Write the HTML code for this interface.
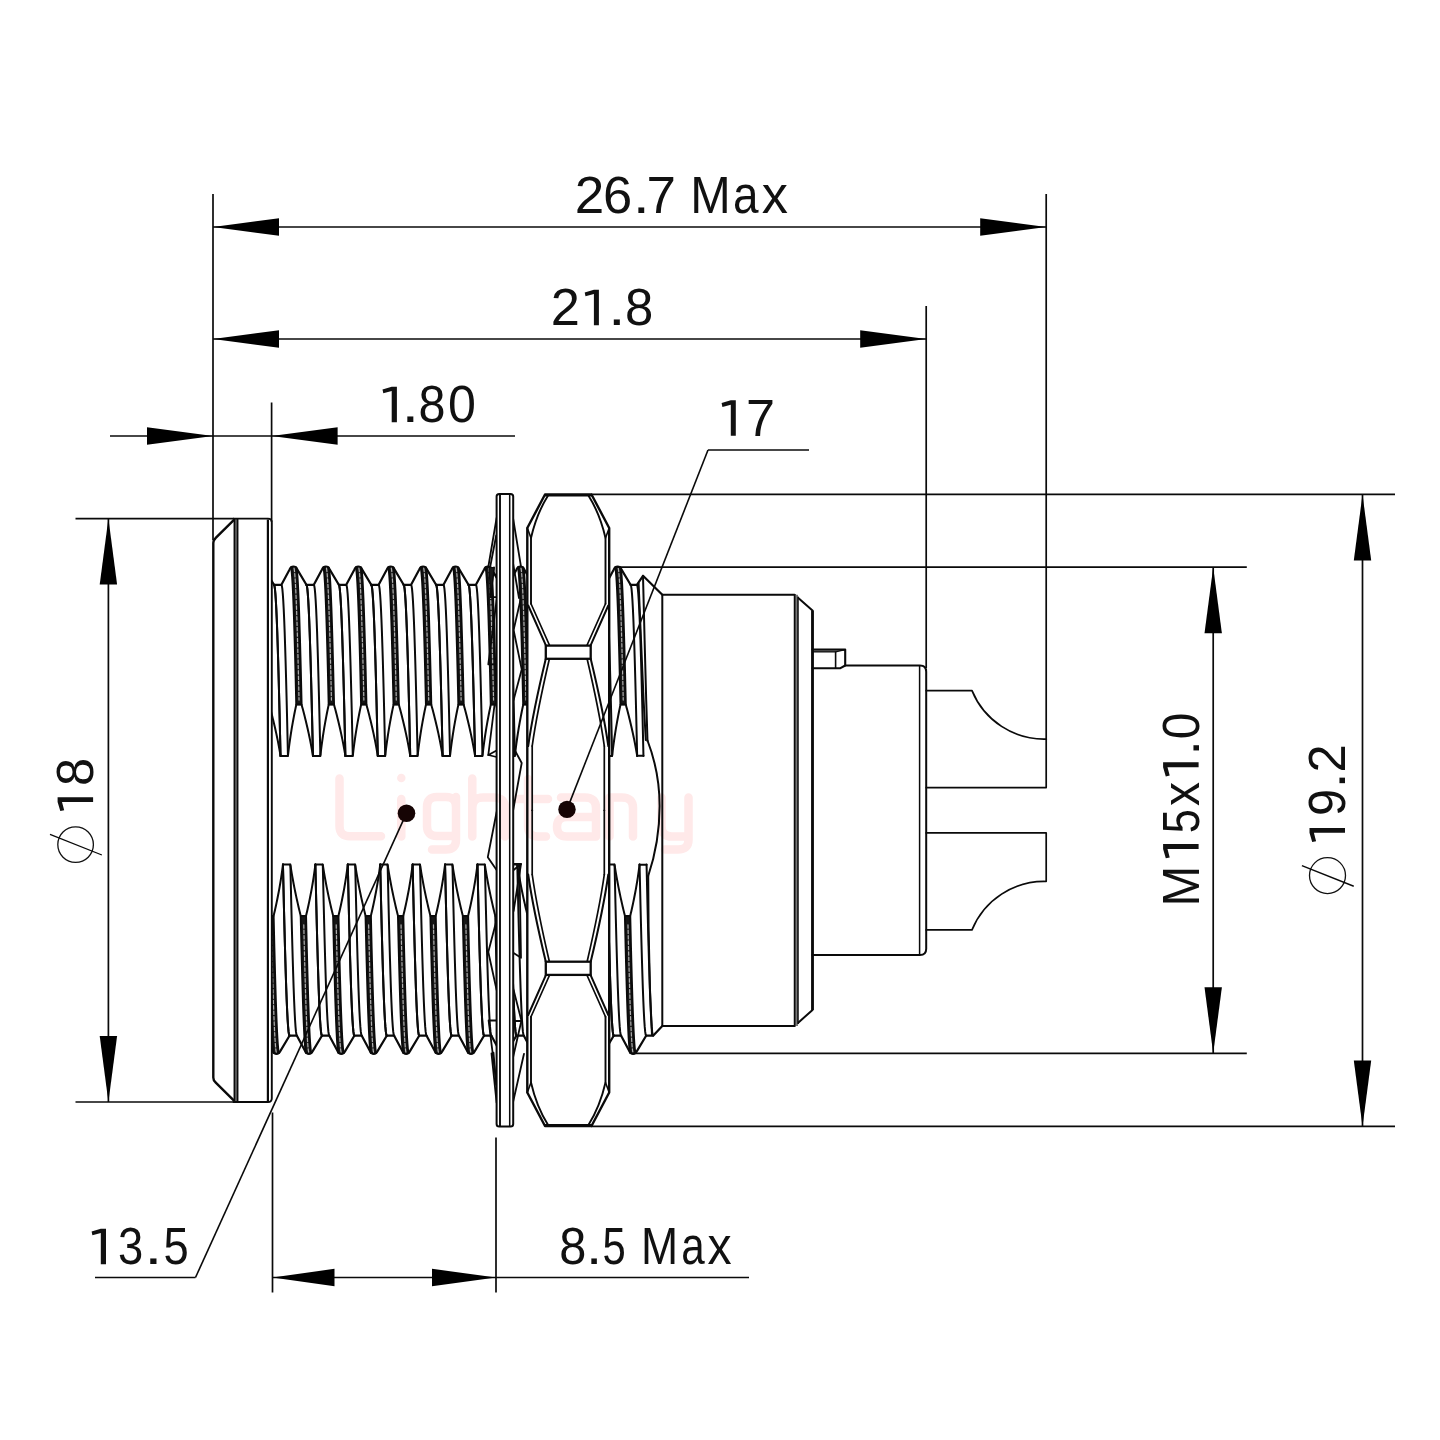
<!DOCTYPE html>
<html><head><meta charset="utf-8"><title>Connector drawing</title>
<style>
html,body{margin:0;padding:0;background:#fff;}
body{width:1440px;height:1440px;overflow:hidden;font-family:"Liberation Sans",sans-serif;}
svg{display:block;}
svg text{font-family:"Liberation Sans",sans-serif;}
</style></head><body>
<svg width="1440" height="1440" viewBox="0 0 1440 1440">
<rect width="1440" height="1440" fill="#fff"/>
<clipPath id="thrA"><rect x="271.6" y="540" width="225.39999999999998" height="540"/></clipPath>
<g clip-path="url(#thrA)">
<path d="M209.16,584.80 L216.56,584.80 L224.76,569.40 Q225.96,566.70 228.56,566.70 Q231.16,566.70 232.36,569.40 L241.56,584.80" stroke="#0a0a0a" stroke-width="2.2" fill="none" stroke-linejoin="round" stroke-linecap="round" />
<path d="M209.16,584.80 L209.63,585.81 L210.10,588.84 L210.56,593.86 L211.03,600.82 L211.50,609.66 L211.97,620.30 L212.44,632.65 L212.90,646.60 L213.37,662.01 L213.84,678.76 L214.31,696.68 L214.78,715.63 L215.24,735.43 L215.71,755.90" stroke="#0a0a0a" stroke-width="2.0" fill="none" stroke-linejoin="round" stroke-linecap="round" />
<path d="M216.56,584.80 L217.03,585.81 L217.50,588.84 L217.96,593.86 L218.43,600.82 L218.90,609.66 L219.37,620.30 L219.84,632.65 L220.30,646.60 L220.77,662.01 L221.24,678.76 L221.71,696.68 L222.18,715.63 L222.64,735.43 L223.11,755.90" stroke="#0a0a0a" stroke-width="2.0" fill="none" stroke-linejoin="round" stroke-linecap="round" />
<path d="M241.56,584.80 L242.03,585.81 L242.50,588.84 L242.96,593.86 L243.43,600.82 L243.90,609.66 L244.37,620.30 L244.84,632.65 L245.30,646.60 L245.77,662.01 L246.24,678.76 L246.71,696.68 L247.18,715.63 L247.64,735.43 L248.11,755.90" stroke="#0a0a0a" stroke-width="2.0" fill="none" stroke-linejoin="round" stroke-linecap="round" />
<path d="M226.11,567.50 L226.48,569.14 L226.86,572.19 L227.24,576.62 L227.62,582.42 L227.99,589.55 L228.37,597.97 L228.75,607.64 L229.13,618.48 L229.50,630.44 L229.88,643.46 L230.26,657.45 L230.64,672.33 L231.01,688.02 L231.39,704.42 L236.79,704.42 L236.41,688.02 L236.04,672.33 L235.66,657.45 L235.28,643.46 L234.90,630.44 L234.53,618.48 L234.15,607.64 L233.77,597.97 L233.39,589.55 L233.02,582.42 L232.64,576.62 L232.26,572.19 L231.88,569.14 L231.51,567.50 Z" stroke="#0a0a0a" stroke-width="1.9" fill="#161616" stroke-linejoin="round" stroke-linecap="round" />
<path d="M229.20,568.18 L229.56,570.39 L229.92,573.84 L230.27,578.53 L230.63,584.42 L230.99,591.48 L231.34,599.69 L231.70,608.99 L232.05,619.34 L232.41,630.68 L232.77,642.96 L233.12,656.10 L233.48,670.05 L233.84,684.73 L234.19,700.07" stroke="#b0b0b0" stroke-width="1.2" fill="none" stroke-linejoin="round" stroke-linecap="round" stroke-dasharray="3.4 2.0" stroke-linecap="butt"/>
<path d="M224.67,1035.70 L232.07,1035.70 L240.27,1051.10 Q241.47,1053.80 244.07,1053.80 Q246.67,1053.80 247.87,1051.10 L257.07,1035.70" stroke="#0a0a0a" stroke-width="2.2" fill="none" stroke-linejoin="round" stroke-linecap="round" />
<path d="M218.12,864.60 L218.59,885.07 L219.05,904.87 L219.52,923.82 L219.99,941.74 L220.46,958.49 L220.93,973.90 L221.39,987.85 L221.86,1000.20 L222.33,1010.84 L222.80,1019.68 L223.27,1026.64 L223.73,1031.66 L224.20,1034.69 L224.67,1035.70" stroke="#0a0a0a" stroke-width="2.0" fill="none" stroke-linejoin="round" stroke-linecap="round" />
<path d="M225.52,864.60 L225.99,885.07 L226.45,904.87 L226.92,923.82 L227.39,941.74 L227.86,958.49 L228.33,973.90 L228.79,987.85 L229.26,1000.20 L229.73,1010.84 L230.20,1019.68 L230.67,1026.64 L231.13,1031.66 L231.60,1034.69 L232.07,1035.70" stroke="#0a0a0a" stroke-width="2.0" fill="none" stroke-linejoin="round" stroke-linecap="round" />
<path d="M250.52,864.60 L250.99,885.07 L251.45,904.87 L251.92,923.82 L252.39,941.74 L252.86,958.49 L253.33,973.90 L253.79,987.85 L254.26,1000.20 L254.73,1010.84 L255.20,1019.68 L255.67,1026.64 L256.13,1031.66 L256.60,1034.69 L257.07,1035.70" stroke="#0a0a0a" stroke-width="2.0" fill="none" stroke-linejoin="round" stroke-linecap="round" />
<path d="M235.84,916.08 L236.22,932.48 L236.59,948.17 L236.97,963.05 L237.35,977.04 L237.73,990.06 L238.10,1002.02 L238.48,1012.86 L238.86,1022.53 L239.24,1030.95 L239.61,1038.08 L239.99,1043.88 L240.37,1048.31 L240.75,1051.36 L241.12,1053.00 L246.52,1053.00 L246.15,1051.36 L245.77,1048.31 L245.39,1043.88 L245.01,1038.08 L244.64,1030.95 L244.26,1022.53 L243.88,1012.86 L243.50,1002.02 L243.13,990.06 L242.75,977.04 L242.37,963.05 L241.99,948.17 L241.62,932.48 L241.24,916.08 Z" stroke="#0a0a0a" stroke-width="1.9" fill="#161616" stroke-linejoin="round" stroke-linecap="round" />
<path d="M238.94,924.74 L239.29,939.90 L239.65,954.39 L240.01,968.12 L240.36,981.04 L240.72,993.06 L241.07,1004.13 L241.43,1014.20 L241.79,1023.20 L242.14,1031.09 L242.50,1037.83 L242.86,1043.39 L243.21,1047.74 L243.57,1050.85 L243.92,1052.70" stroke="#b0b0b0" stroke-width="1.2" fill="none" stroke-linejoin="round" stroke-linecap="round" stroke-dasharray="3.4 2.0" stroke-linecap="butt"/>
<path d="M215.71,755.90 L216.25,755.90 L216.79,755.90 L217.33,755.90 L217.87,755.90 L218.41,755.90 L218.95,755.90 L219.50,755.90 L220.04,755.90 L220.58,755.90 L221.12,755.90 L221.66,755.90 L222.20,755.90 L222.74,755.90 L223.25,754.63 L223.71,750.66 L224.17,746.92 L224.64,743.37 L225.11,739.99 L225.58,736.75 L226.06,733.63 L226.54,730.62 L227.02,727.71 L227.51,724.88 L227.99,722.14 L228.48,719.46 L228.97,716.86 L229.46,714.31 L229.96,711.82 L230.45,709.38 L230.95,706.98 L231.45,704.63 L231.98,704.42 L232.52,704.42 L233.06,704.42 L233.60,704.42 L234.14,704.42 L234.68,704.42 L235.22,704.42 L235.76,704.42 L236.30,704.42 L236.86,705.02 L237.43,707.15 L238.02,709.31 L238.60,711.51 L239.18,713.76 L239.76,716.05 L240.35,718.38 L240.93,720.77 L241.52,723.22 L242.11,725.72 L242.70,728.29 L243.30,730.94 L243.89,733.66 L244.49,736.48 L245.09,739.39 L245.69,742.42 L246.30,745.57 L246.90,748.88 L247.52,752.35 L248.13,755.90" stroke="#0a0a0a" stroke-width="2.0" fill="none" stroke-linejoin="round" stroke-linecap="round" />
<path d="M218.12,864.60 L218.66,864.60 L219.20,864.60 L219.74,864.60 L220.28,864.60 L220.82,864.60 L221.36,864.60 L221.90,864.60 L222.44,864.60 L222.98,864.60 L223.52,864.60 L224.06,864.60 L224.60,864.60 L225.14,864.60 L225.71,865.87 L226.33,869.84 L226.95,873.58 L227.57,877.13 L228.18,880.51 L228.78,883.75 L229.38,886.87 L229.99,889.88 L230.58,892.79 L231.18,895.62 L231.77,898.36 L232.37,901.04 L232.96,903.64 L233.54,906.19 L234.13,908.68 L234.72,911.12 L235.30,913.52 L235.89,915.87 L236.43,916.08 L236.97,916.08 L237.51,916.08 L238.05,916.08 L238.59,916.08 L239.13,916.08 L239.67,916.08 L240.21,916.08 L240.75,916.08 L241.28,915.48 L241.78,913.35 L242.28,911.19 L242.78,908.99 L243.28,906.74 L243.78,904.45 L244.27,902.12 L244.77,899.73 L245.26,897.28 L245.75,894.78 L246.24,892.21 L246.73,889.56 L247.21,886.84 L247.70,884.02 L248.18,881.11 L248.66,878.08 L249.13,874.93 L249.60,871.62 L250.07,868.15 L250.54,864.60" stroke="#0a0a0a" stroke-width="2.0" fill="none" stroke-linejoin="round" stroke-linecap="round" />
<path d="M241.58,584.80 L248.98,584.80 L257.18,569.40 Q258.38,566.70 260.98,566.70 Q263.58,566.70 264.78,569.40 L273.98,584.80" stroke="#0a0a0a" stroke-width="2.2" fill="none" stroke-linejoin="round" stroke-linecap="round" />
<path d="M241.58,584.80 L242.05,585.81 L242.52,588.84 L242.98,593.86 L243.45,600.82 L243.92,609.66 L244.39,620.30 L244.86,632.65 L245.32,646.60 L245.79,662.01 L246.26,678.76 L246.73,696.68 L247.20,715.63 L247.66,735.43 L248.13,755.90" stroke="#0a0a0a" stroke-width="2.0" fill="none" stroke-linejoin="round" stroke-linecap="round" />
<path d="M248.98,584.80 L249.45,585.81 L249.92,588.84 L250.38,593.86 L250.85,600.82 L251.32,609.66 L251.79,620.30 L252.26,632.65 L252.72,646.60 L253.19,662.01 L253.66,678.76 L254.13,696.68 L254.60,715.63 L255.06,735.43 L255.53,755.90" stroke="#0a0a0a" stroke-width="2.0" fill="none" stroke-linejoin="round" stroke-linecap="round" />
<path d="M273.98,584.80 L274.45,585.81 L274.92,588.84 L275.38,593.86 L275.85,600.82 L276.32,609.66 L276.79,620.30 L277.26,632.65 L277.72,646.60 L278.19,662.01 L278.66,678.76 L279.13,696.68 L279.60,715.63 L280.06,735.43 L280.53,755.90" stroke="#0a0a0a" stroke-width="2.0" fill="none" stroke-linejoin="round" stroke-linecap="round" />
<path d="M258.53,567.50 L258.90,569.14 L259.28,572.19 L259.66,576.62 L260.04,582.42 L260.41,589.55 L260.79,597.97 L261.17,607.64 L261.55,618.48 L261.92,630.44 L262.30,643.46 L262.68,657.45 L263.06,672.33 L263.43,688.02 L263.81,704.42 L269.21,704.42 L268.83,688.02 L268.46,672.33 L268.08,657.45 L267.70,643.46 L267.32,630.44 L266.95,618.48 L266.57,607.64 L266.19,597.97 L265.81,589.55 L265.44,582.42 L265.06,576.62 L264.68,572.19 L264.30,569.14 L263.93,567.50 Z" stroke="#0a0a0a" stroke-width="1.9" fill="#161616" stroke-linejoin="round" stroke-linecap="round" />
<path d="M261.62,568.18 L261.98,570.39 L262.34,573.84 L262.69,578.53 L263.05,584.42 L263.41,591.48 L263.76,599.69 L264.12,608.99 L264.47,619.34 L264.83,630.68 L265.19,642.96 L265.54,656.10 L265.90,670.05 L266.26,684.73 L266.61,700.07" stroke="#b0b0b0" stroke-width="1.2" fill="none" stroke-linejoin="round" stroke-linecap="round" stroke-dasharray="3.4 2.0" stroke-linecap="butt"/>
<path d="M257.09,1035.70 L264.49,1035.70 L272.69,1051.10 Q273.89,1053.80 276.49,1053.80 Q279.09,1053.80 280.29,1051.10 L289.49,1035.70" stroke="#0a0a0a" stroke-width="2.2" fill="none" stroke-linejoin="round" stroke-linecap="round" />
<path d="M250.54,864.60 L251.01,885.07 L251.47,904.87 L251.94,923.82 L252.41,941.74 L252.88,958.49 L253.35,973.90 L253.81,987.85 L254.28,1000.20 L254.75,1010.84 L255.22,1019.68 L255.69,1026.64 L256.15,1031.66 L256.62,1034.69 L257.09,1035.70" stroke="#0a0a0a" stroke-width="2.0" fill="none" stroke-linejoin="round" stroke-linecap="round" />
<path d="M257.94,864.60 L258.41,885.07 L258.87,904.87 L259.34,923.82 L259.81,941.74 L260.28,958.49 L260.75,973.90 L261.21,987.85 L261.68,1000.20 L262.15,1010.84 L262.62,1019.68 L263.09,1026.64 L263.55,1031.66 L264.02,1034.69 L264.49,1035.70" stroke="#0a0a0a" stroke-width="2.0" fill="none" stroke-linejoin="round" stroke-linecap="round" />
<path d="M282.94,864.60 L283.41,885.07 L283.87,904.87 L284.34,923.82 L284.81,941.74 L285.28,958.49 L285.75,973.90 L286.21,987.85 L286.68,1000.20 L287.15,1010.84 L287.62,1019.68 L288.09,1026.64 L288.55,1031.66 L289.02,1034.69 L289.49,1035.70" stroke="#0a0a0a" stroke-width="2.0" fill="none" stroke-linejoin="round" stroke-linecap="round" />
<path d="M268.26,916.08 L268.64,932.48 L269.01,948.17 L269.39,963.05 L269.77,977.04 L270.15,990.06 L270.52,1002.02 L270.90,1012.86 L271.28,1022.53 L271.66,1030.95 L272.03,1038.08 L272.41,1043.88 L272.79,1048.31 L273.17,1051.36 L273.54,1053.00 L278.94,1053.00 L278.57,1051.36 L278.19,1048.31 L277.81,1043.88 L277.43,1038.08 L277.06,1030.95 L276.68,1022.53 L276.30,1012.86 L275.92,1002.02 L275.55,990.06 L275.17,977.04 L274.79,963.05 L274.41,948.17 L274.04,932.48 L273.66,916.08 Z" stroke="#0a0a0a" stroke-width="1.9" fill="#161616" stroke-linejoin="round" stroke-linecap="round" />
<path d="M271.36,924.74 L271.71,939.90 L272.07,954.39 L272.43,968.12 L272.78,981.04 L273.14,993.06 L273.49,1004.13 L273.85,1014.20 L274.21,1023.20 L274.56,1031.09 L274.92,1037.83 L275.28,1043.39 L275.63,1047.74 L275.99,1050.85 L276.34,1052.70" stroke="#b0b0b0" stroke-width="1.2" fill="none" stroke-linejoin="round" stroke-linecap="round" stroke-dasharray="3.4 2.0" stroke-linecap="butt"/>
<path d="M248.13,755.90 L248.67,755.90 L249.21,755.90 L249.75,755.90 L250.29,755.90 L250.83,755.90 L251.37,755.90 L251.92,755.90 L252.46,755.90 L253.00,755.90 L253.54,755.90 L254.08,755.90 L254.62,755.90 L255.16,755.90 L255.67,754.63 L256.13,750.66 L256.59,746.92 L257.06,743.37 L257.53,739.99 L258.00,736.75 L258.48,733.63 L258.96,730.62 L259.44,727.71 L259.93,724.88 L260.41,722.14 L260.90,719.46 L261.39,716.86 L261.88,714.31 L262.38,711.82 L262.87,709.38 L263.37,706.98 L263.87,704.63 L264.40,704.42 L264.94,704.42 L265.48,704.42 L266.02,704.42 L266.56,704.42 L267.10,704.42 L267.64,704.42 L268.18,704.42 L268.72,704.42 L269.28,705.02 L269.85,707.15 L270.44,709.31 L271.02,711.51 L271.60,713.76 L272.18,716.05 L272.77,718.38 L273.35,720.77 L273.94,723.22 L274.53,725.72 L275.12,728.29 L275.72,730.94 L276.31,733.66 L276.91,736.48 L277.51,739.39 L278.11,742.42 L278.72,745.57 L279.32,748.88 L279.94,752.35 L280.55,755.90" stroke="#0a0a0a" stroke-width="2.0" fill="none" stroke-linejoin="round" stroke-linecap="round" />
<path d="M250.54,864.60 L251.08,864.60 L251.62,864.60 L252.16,864.60 L252.70,864.60 L253.24,864.60 L253.78,864.60 L254.32,864.60 L254.86,864.60 L255.40,864.60 L255.94,864.60 L256.48,864.60 L257.02,864.60 L257.56,864.60 L258.13,865.87 L258.75,869.84 L259.37,873.58 L259.99,877.13 L260.60,880.51 L261.20,883.75 L261.80,886.87 L262.41,889.88 L263.00,892.79 L263.60,895.62 L264.19,898.36 L264.79,901.04 L265.38,903.64 L265.96,906.19 L266.55,908.68 L267.14,911.12 L267.72,913.52 L268.31,915.87 L268.85,916.08 L269.39,916.08 L269.93,916.08 L270.47,916.08 L271.01,916.08 L271.55,916.08 L272.09,916.08 L272.63,916.08 L273.17,916.08 L273.70,915.48 L274.20,913.35 L274.70,911.19 L275.20,908.99 L275.70,906.74 L276.20,904.45 L276.69,902.12 L277.19,899.73 L277.68,897.28 L278.17,894.78 L278.66,892.21 L279.15,889.56 L279.63,886.84 L280.12,884.02 L280.60,881.11 L281.08,878.08 L281.55,874.93 L282.02,871.62 L282.49,868.15 L282.96,864.60" stroke="#0a0a0a" stroke-width="2.0" fill="none" stroke-linejoin="round" stroke-linecap="round" />
<path d="M274.00,584.80 L281.40,584.80 L289.60,569.40 Q290.80,566.70 293.40,566.70 Q296.00,566.70 297.20,569.40 L306.40,584.80" stroke="#0a0a0a" stroke-width="2.2" fill="none" stroke-linejoin="round" stroke-linecap="round" />
<path d="M274.00,584.80 L274.47,585.81 L274.94,588.84 L275.40,593.86 L275.87,600.82 L276.34,609.66 L276.81,620.30 L277.28,632.65 L277.74,646.60 L278.21,662.01 L278.68,678.76 L279.15,696.68 L279.62,715.63 L280.08,735.43 L280.55,755.90" stroke="#0a0a0a" stroke-width="2.0" fill="none" stroke-linejoin="round" stroke-linecap="round" />
<path d="M281.40,584.80 L281.87,585.81 L282.34,588.84 L282.80,593.86 L283.27,600.82 L283.74,609.66 L284.21,620.30 L284.68,632.65 L285.14,646.60 L285.61,662.01 L286.08,678.76 L286.55,696.68 L287.02,715.63 L287.48,735.43 L287.95,755.90" stroke="#0a0a0a" stroke-width="2.0" fill="none" stroke-linejoin="round" stroke-linecap="round" />
<path d="M306.40,584.80 L306.87,585.81 L307.34,588.84 L307.80,593.86 L308.27,600.82 L308.74,609.66 L309.21,620.30 L309.68,632.65 L310.14,646.60 L310.61,662.01 L311.08,678.76 L311.55,696.68 L312.02,715.63 L312.48,735.43 L312.95,755.90" stroke="#0a0a0a" stroke-width="2.0" fill="none" stroke-linejoin="round" stroke-linecap="round" />
<path d="M290.95,567.50 L291.32,569.14 L291.70,572.19 L292.08,576.62 L292.46,582.42 L292.83,589.55 L293.21,597.97 L293.59,607.64 L293.97,618.48 L294.34,630.44 L294.72,643.46 L295.10,657.45 L295.48,672.33 L295.85,688.02 L296.23,704.42 L301.63,704.42 L301.25,688.02 L300.88,672.33 L300.50,657.45 L300.12,643.46 L299.74,630.44 L299.37,618.48 L298.99,607.64 L298.61,597.97 L298.23,589.55 L297.86,582.42 L297.48,576.62 L297.10,572.19 L296.72,569.14 L296.35,567.50 Z" stroke="#0a0a0a" stroke-width="1.9" fill="#161616" stroke-linejoin="round" stroke-linecap="round" />
<path d="M294.04,568.18 L294.40,570.39 L294.76,573.84 L295.11,578.53 L295.47,584.42 L295.83,591.48 L296.18,599.69 L296.54,608.99 L296.89,619.34 L297.25,630.68 L297.61,642.96 L297.96,656.10 L298.32,670.05 L298.68,684.73 L299.03,700.07" stroke="#b0b0b0" stroke-width="1.2" fill="none" stroke-linejoin="round" stroke-linecap="round" stroke-dasharray="3.4 2.0" stroke-linecap="butt"/>
<path d="M289.51,1035.70 L296.91,1035.70 L305.11,1051.10 Q306.31,1053.80 308.91,1053.80 Q311.51,1053.80 312.71,1051.10 L321.91,1035.70" stroke="#0a0a0a" stroke-width="2.2" fill="none" stroke-linejoin="round" stroke-linecap="round" />
<path d="M282.96,864.60 L283.43,885.07 L283.89,904.87 L284.36,923.82 L284.83,941.74 L285.30,958.49 L285.77,973.90 L286.23,987.85 L286.70,1000.20 L287.17,1010.84 L287.64,1019.68 L288.11,1026.64 L288.57,1031.66 L289.04,1034.69 L289.51,1035.70" stroke="#0a0a0a" stroke-width="2.0" fill="none" stroke-linejoin="round" stroke-linecap="round" />
<path d="M290.36,864.60 L290.83,885.07 L291.29,904.87 L291.76,923.82 L292.23,941.74 L292.70,958.49 L293.17,973.90 L293.63,987.85 L294.10,1000.20 L294.57,1010.84 L295.04,1019.68 L295.51,1026.64 L295.97,1031.66 L296.44,1034.69 L296.91,1035.70" stroke="#0a0a0a" stroke-width="2.0" fill="none" stroke-linejoin="round" stroke-linecap="round" />
<path d="M315.36,864.60 L315.83,885.07 L316.29,904.87 L316.76,923.82 L317.23,941.74 L317.70,958.49 L318.17,973.90 L318.63,987.85 L319.10,1000.20 L319.57,1010.84 L320.04,1019.68 L320.51,1026.64 L320.97,1031.66 L321.44,1034.69 L321.91,1035.70" stroke="#0a0a0a" stroke-width="2.0" fill="none" stroke-linejoin="round" stroke-linecap="round" />
<path d="M300.68,916.08 L301.06,932.48 L301.43,948.17 L301.81,963.05 L302.19,977.04 L302.57,990.06 L302.94,1002.02 L303.32,1012.86 L303.70,1022.53 L304.08,1030.95 L304.45,1038.08 L304.83,1043.88 L305.21,1048.31 L305.59,1051.36 L305.96,1053.00 L311.36,1053.00 L310.99,1051.36 L310.61,1048.31 L310.23,1043.88 L309.85,1038.08 L309.48,1030.95 L309.10,1022.53 L308.72,1012.86 L308.34,1002.02 L307.97,990.06 L307.59,977.04 L307.21,963.05 L306.83,948.17 L306.46,932.48 L306.08,916.08 Z" stroke="#0a0a0a" stroke-width="1.9" fill="#161616" stroke-linejoin="round" stroke-linecap="round" />
<path d="M303.78,924.74 L304.13,939.90 L304.49,954.39 L304.85,968.12 L305.20,981.04 L305.56,993.06 L305.91,1004.13 L306.27,1014.20 L306.63,1023.20 L306.98,1031.09 L307.34,1037.83 L307.70,1043.39 L308.05,1047.74 L308.41,1050.85 L308.76,1052.70" stroke="#b0b0b0" stroke-width="1.2" fill="none" stroke-linejoin="round" stroke-linecap="round" stroke-dasharray="3.4 2.0" stroke-linecap="butt"/>
<path d="M280.55,755.90 L281.09,755.90 L281.63,755.90 L282.17,755.90 L282.71,755.90 L283.25,755.90 L283.79,755.90 L284.34,755.90 L284.88,755.90 L285.42,755.90 L285.96,755.90 L286.50,755.90 L287.04,755.90 L287.58,755.90 L288.09,754.63 L288.55,750.66 L289.01,746.92 L289.48,743.37 L289.95,739.99 L290.42,736.75 L290.90,733.63 L291.38,730.62 L291.86,727.71 L292.35,724.88 L292.83,722.14 L293.32,719.46 L293.81,716.86 L294.30,714.31 L294.80,711.82 L295.29,709.38 L295.79,706.98 L296.29,704.63 L296.82,704.42 L297.36,704.42 L297.90,704.42 L298.44,704.42 L298.98,704.42 L299.52,704.42 L300.06,704.42 L300.60,704.42 L301.14,704.42 L301.70,705.02 L302.27,707.15 L302.86,709.31 L303.44,711.51 L304.02,713.76 L304.60,716.05 L305.19,718.38 L305.77,720.77 L306.36,723.22 L306.95,725.72 L307.54,728.29 L308.14,730.94 L308.73,733.66 L309.33,736.48 L309.93,739.39 L310.53,742.42 L311.14,745.57 L311.74,748.88 L312.36,752.35 L312.97,755.90" stroke="#0a0a0a" stroke-width="2.0" fill="none" stroke-linejoin="round" stroke-linecap="round" />
<path d="M282.96,864.60 L283.50,864.60 L284.04,864.60 L284.58,864.60 L285.12,864.60 L285.66,864.60 L286.20,864.60 L286.74,864.60 L287.28,864.60 L287.82,864.60 L288.36,864.60 L288.90,864.60 L289.44,864.60 L289.98,864.60 L290.55,865.87 L291.17,869.84 L291.79,873.58 L292.41,877.13 L293.02,880.51 L293.62,883.75 L294.22,886.87 L294.83,889.88 L295.42,892.79 L296.02,895.62 L296.61,898.36 L297.21,901.04 L297.80,903.64 L298.38,906.19 L298.97,908.68 L299.56,911.12 L300.14,913.52 L300.73,915.87 L301.27,916.08 L301.81,916.08 L302.35,916.08 L302.89,916.08 L303.43,916.08 L303.97,916.08 L304.51,916.08 L305.05,916.08 L305.59,916.08 L306.12,915.48 L306.62,913.35 L307.12,911.19 L307.62,908.99 L308.12,906.74 L308.62,904.45 L309.11,902.12 L309.61,899.73 L310.10,897.28 L310.59,894.78 L311.08,892.21 L311.57,889.56 L312.05,886.84 L312.54,884.02 L313.02,881.11 L313.50,878.08 L313.97,874.93 L314.44,871.62 L314.91,868.15 L315.38,864.60" stroke="#0a0a0a" stroke-width="2.0" fill="none" stroke-linejoin="round" stroke-linecap="round" />
<path d="M306.42,584.80 L313.82,584.80 L322.02,569.40 Q323.22,566.70 325.82,566.70 Q328.42,566.70 329.62,569.40 L338.82,584.80" stroke="#0a0a0a" stroke-width="2.2" fill="none" stroke-linejoin="round" stroke-linecap="round" />
<path d="M306.42,584.80 L306.89,585.81 L307.36,588.84 L307.82,593.86 L308.29,600.82 L308.76,609.66 L309.23,620.30 L309.70,632.65 L310.16,646.60 L310.63,662.01 L311.10,678.76 L311.57,696.68 L312.04,715.63 L312.50,735.43 L312.97,755.90" stroke="#0a0a0a" stroke-width="2.0" fill="none" stroke-linejoin="round" stroke-linecap="round" />
<path d="M313.82,584.80 L314.29,585.81 L314.76,588.84 L315.22,593.86 L315.69,600.82 L316.16,609.66 L316.63,620.30 L317.10,632.65 L317.56,646.60 L318.03,662.01 L318.50,678.76 L318.97,696.68 L319.44,715.63 L319.90,735.43 L320.37,755.90" stroke="#0a0a0a" stroke-width="2.0" fill="none" stroke-linejoin="round" stroke-linecap="round" />
<path d="M338.82,584.80 L339.29,585.81 L339.76,588.84 L340.22,593.86 L340.69,600.82 L341.16,609.66 L341.63,620.30 L342.10,632.65 L342.56,646.60 L343.03,662.01 L343.50,678.76 L343.97,696.68 L344.44,715.63 L344.90,735.43 L345.37,755.90" stroke="#0a0a0a" stroke-width="2.0" fill="none" stroke-linejoin="round" stroke-linecap="round" />
<path d="M323.37,567.50 L323.74,569.14 L324.12,572.19 L324.50,576.62 L324.88,582.42 L325.25,589.55 L325.63,597.97 L326.01,607.64 L326.39,618.48 L326.76,630.44 L327.14,643.46 L327.52,657.45 L327.90,672.33 L328.27,688.02 L328.65,704.42 L334.05,704.42 L333.67,688.02 L333.30,672.33 L332.92,657.45 L332.54,643.46 L332.16,630.44 L331.79,618.48 L331.41,607.64 L331.03,597.97 L330.65,589.55 L330.28,582.42 L329.90,576.62 L329.52,572.19 L329.14,569.14 L328.77,567.50 Z" stroke="#0a0a0a" stroke-width="1.9" fill="#161616" stroke-linejoin="round" stroke-linecap="round" />
<path d="M326.46,568.18 L326.82,570.39 L327.18,573.84 L327.53,578.53 L327.89,584.42 L328.25,591.48 L328.60,599.69 L328.96,608.99 L329.31,619.34 L329.67,630.68 L330.03,642.96 L330.38,656.10 L330.74,670.05 L331.10,684.73 L331.45,700.07" stroke="#b0b0b0" stroke-width="1.2" fill="none" stroke-linejoin="round" stroke-linecap="round" stroke-dasharray="3.4 2.0" stroke-linecap="butt"/>
<path d="M321.93,1035.70 L329.33,1035.70 L337.53,1051.10 Q338.73,1053.80 341.33,1053.80 Q343.93,1053.80 345.13,1051.10 L354.33,1035.70" stroke="#0a0a0a" stroke-width="2.2" fill="none" stroke-linejoin="round" stroke-linecap="round" />
<path d="M315.38,864.60 L315.85,885.07 L316.31,904.87 L316.78,923.82 L317.25,941.74 L317.72,958.49 L318.19,973.90 L318.65,987.85 L319.12,1000.20 L319.59,1010.84 L320.06,1019.68 L320.53,1026.64 L320.99,1031.66 L321.46,1034.69 L321.93,1035.70" stroke="#0a0a0a" stroke-width="2.0" fill="none" stroke-linejoin="round" stroke-linecap="round" />
<path d="M322.78,864.60 L323.25,885.07 L323.71,904.87 L324.18,923.82 L324.65,941.74 L325.12,958.49 L325.59,973.90 L326.05,987.85 L326.52,1000.20 L326.99,1010.84 L327.46,1019.68 L327.93,1026.64 L328.39,1031.66 L328.86,1034.69 L329.33,1035.70" stroke="#0a0a0a" stroke-width="2.0" fill="none" stroke-linejoin="round" stroke-linecap="round" />
<path d="M347.78,864.60 L348.25,885.07 L348.71,904.87 L349.18,923.82 L349.65,941.74 L350.12,958.49 L350.59,973.90 L351.05,987.85 L351.52,1000.20 L351.99,1010.84 L352.46,1019.68 L352.93,1026.64 L353.39,1031.66 L353.86,1034.69 L354.33,1035.70" stroke="#0a0a0a" stroke-width="2.0" fill="none" stroke-linejoin="round" stroke-linecap="round" />
<path d="M333.10,916.08 L333.48,932.48 L333.85,948.17 L334.23,963.05 L334.61,977.04 L334.99,990.06 L335.36,1002.02 L335.74,1012.86 L336.12,1022.53 L336.50,1030.95 L336.87,1038.08 L337.25,1043.88 L337.63,1048.31 L338.01,1051.36 L338.38,1053.00 L343.78,1053.00 L343.41,1051.36 L343.03,1048.31 L342.65,1043.88 L342.27,1038.08 L341.90,1030.95 L341.52,1022.53 L341.14,1012.86 L340.76,1002.02 L340.39,990.06 L340.01,977.04 L339.63,963.05 L339.25,948.17 L338.88,932.48 L338.50,916.08 Z" stroke="#0a0a0a" stroke-width="1.9" fill="#161616" stroke-linejoin="round" stroke-linecap="round" />
<path d="M336.20,924.74 L336.55,939.90 L336.91,954.39 L337.27,968.12 L337.62,981.04 L337.98,993.06 L338.33,1004.13 L338.69,1014.20 L339.05,1023.20 L339.40,1031.09 L339.76,1037.83 L340.12,1043.39 L340.47,1047.74 L340.83,1050.85 L341.18,1052.70" stroke="#b0b0b0" stroke-width="1.2" fill="none" stroke-linejoin="round" stroke-linecap="round" stroke-dasharray="3.4 2.0" stroke-linecap="butt"/>
<path d="M312.97,755.90 L313.51,755.90 L314.05,755.90 L314.59,755.90 L315.13,755.90 L315.67,755.90 L316.21,755.90 L316.76,755.90 L317.30,755.90 L317.84,755.90 L318.38,755.90 L318.92,755.90 L319.46,755.90 L320.00,755.90 L320.51,754.63 L320.97,750.66 L321.43,746.92 L321.90,743.37 L322.37,739.99 L322.84,736.75 L323.32,733.63 L323.80,730.62 L324.28,727.71 L324.77,724.88 L325.25,722.14 L325.74,719.46 L326.23,716.86 L326.72,714.31 L327.22,711.82 L327.71,709.38 L328.21,706.98 L328.71,704.63 L329.24,704.42 L329.78,704.42 L330.32,704.42 L330.86,704.42 L331.40,704.42 L331.94,704.42 L332.48,704.42 L333.02,704.42 L333.56,704.42 L334.12,705.02 L334.69,707.15 L335.28,709.31 L335.86,711.51 L336.44,713.76 L337.02,716.05 L337.61,718.38 L338.19,720.77 L338.78,723.22 L339.37,725.72 L339.96,728.29 L340.56,730.94 L341.15,733.66 L341.75,736.48 L342.35,739.39 L342.95,742.42 L343.56,745.57 L344.16,748.88 L344.78,752.35 L345.39,755.90" stroke="#0a0a0a" stroke-width="2.0" fill="none" stroke-linejoin="round" stroke-linecap="round" />
<path d="M315.38,864.60 L315.92,864.60 L316.46,864.60 L317.00,864.60 L317.54,864.60 L318.08,864.60 L318.62,864.60 L319.16,864.60 L319.70,864.60 L320.24,864.60 L320.78,864.60 L321.32,864.60 L321.86,864.60 L322.40,864.60 L322.97,865.87 L323.59,869.84 L324.21,873.58 L324.83,877.13 L325.44,880.51 L326.04,883.75 L326.64,886.87 L327.25,889.88 L327.84,892.79 L328.44,895.62 L329.03,898.36 L329.63,901.04 L330.22,903.64 L330.80,906.19 L331.39,908.68 L331.98,911.12 L332.56,913.52 L333.15,915.87 L333.69,916.08 L334.23,916.08 L334.77,916.08 L335.31,916.08 L335.85,916.08 L336.39,916.08 L336.93,916.08 L337.47,916.08 L338.01,916.08 L338.54,915.48 L339.04,913.35 L339.54,911.19 L340.04,908.99 L340.54,906.74 L341.04,904.45 L341.53,902.12 L342.03,899.73 L342.52,897.28 L343.01,894.78 L343.50,892.21 L343.99,889.56 L344.47,886.84 L344.96,884.02 L345.44,881.11 L345.92,878.08 L346.39,874.93 L346.86,871.62 L347.33,868.15 L347.80,864.60" stroke="#0a0a0a" stroke-width="2.0" fill="none" stroke-linejoin="round" stroke-linecap="round" />
<path d="M338.84,584.80 L346.24,584.80 L354.44,569.40 Q355.64,566.70 358.24,566.70 Q360.84,566.70 362.04,569.40 L371.24,584.80" stroke="#0a0a0a" stroke-width="2.2" fill="none" stroke-linejoin="round" stroke-linecap="round" />
<path d="M338.84,584.80 L339.31,585.81 L339.78,588.84 L340.24,593.86 L340.71,600.82 L341.18,609.66 L341.65,620.30 L342.12,632.65 L342.58,646.60 L343.05,662.01 L343.52,678.76 L343.99,696.68 L344.46,715.63 L344.92,735.43 L345.39,755.90" stroke="#0a0a0a" stroke-width="2.0" fill="none" stroke-linejoin="round" stroke-linecap="round" />
<path d="M346.24,584.80 L346.71,585.81 L347.18,588.84 L347.64,593.86 L348.11,600.82 L348.58,609.66 L349.05,620.30 L349.52,632.65 L349.98,646.60 L350.45,662.01 L350.92,678.76 L351.39,696.68 L351.86,715.63 L352.32,735.43 L352.79,755.90" stroke="#0a0a0a" stroke-width="2.0" fill="none" stroke-linejoin="round" stroke-linecap="round" />
<path d="M371.24,584.80 L371.71,585.81 L372.18,588.84 L372.64,593.86 L373.11,600.82 L373.58,609.66 L374.05,620.30 L374.52,632.65 L374.98,646.60 L375.45,662.01 L375.92,678.76 L376.39,696.68 L376.86,715.63 L377.32,735.43 L377.79,755.90" stroke="#0a0a0a" stroke-width="2.0" fill="none" stroke-linejoin="round" stroke-linecap="round" />
<path d="M355.79,567.50 L356.16,569.14 L356.54,572.19 L356.92,576.62 L357.30,582.42 L357.67,589.55 L358.05,597.97 L358.43,607.64 L358.81,618.48 L359.18,630.44 L359.56,643.46 L359.94,657.45 L360.32,672.33 L360.69,688.02 L361.07,704.42 L366.47,704.42 L366.09,688.02 L365.72,672.33 L365.34,657.45 L364.96,643.46 L364.58,630.44 L364.21,618.48 L363.83,607.64 L363.45,597.97 L363.07,589.55 L362.70,582.42 L362.32,576.62 L361.94,572.19 L361.56,569.14 L361.19,567.50 Z" stroke="#0a0a0a" stroke-width="1.9" fill="#161616" stroke-linejoin="round" stroke-linecap="round" />
<path d="M358.88,568.18 L359.24,570.39 L359.60,573.84 L359.95,578.53 L360.31,584.42 L360.67,591.48 L361.02,599.69 L361.38,608.99 L361.73,619.34 L362.09,630.68 L362.45,642.96 L362.80,656.10 L363.16,670.05 L363.52,684.73 L363.87,700.07" stroke="#b0b0b0" stroke-width="1.2" fill="none" stroke-linejoin="round" stroke-linecap="round" stroke-dasharray="3.4 2.0" stroke-linecap="butt"/>
<path d="M354.35,1035.70 L361.75,1035.70 L369.95,1051.10 Q371.15,1053.80 373.75,1053.80 Q376.35,1053.80 377.55,1051.10 L386.75,1035.70" stroke="#0a0a0a" stroke-width="2.2" fill="none" stroke-linejoin="round" stroke-linecap="round" />
<path d="M347.80,864.60 L348.27,885.07 L348.73,904.87 L349.20,923.82 L349.67,941.74 L350.14,958.49 L350.61,973.90 L351.07,987.85 L351.54,1000.20 L352.01,1010.84 L352.48,1019.68 L352.95,1026.64 L353.41,1031.66 L353.88,1034.69 L354.35,1035.70" stroke="#0a0a0a" stroke-width="2.0" fill="none" stroke-linejoin="round" stroke-linecap="round" />
<path d="M355.20,864.60 L355.67,885.07 L356.13,904.87 L356.60,923.82 L357.07,941.74 L357.54,958.49 L358.01,973.90 L358.47,987.85 L358.94,1000.20 L359.41,1010.84 L359.88,1019.68 L360.35,1026.64 L360.81,1031.66 L361.28,1034.69 L361.75,1035.70" stroke="#0a0a0a" stroke-width="2.0" fill="none" stroke-linejoin="round" stroke-linecap="round" />
<path d="M380.20,864.60 L380.67,885.07 L381.13,904.87 L381.60,923.82 L382.07,941.74 L382.54,958.49 L383.01,973.90 L383.47,987.85 L383.94,1000.20 L384.41,1010.84 L384.88,1019.68 L385.35,1026.64 L385.81,1031.66 L386.28,1034.69 L386.75,1035.70" stroke="#0a0a0a" stroke-width="2.0" fill="none" stroke-linejoin="round" stroke-linecap="round" />
<path d="M365.52,916.08 L365.90,932.48 L366.27,948.17 L366.65,963.05 L367.03,977.04 L367.41,990.06 L367.78,1002.02 L368.16,1012.86 L368.54,1022.53 L368.92,1030.95 L369.29,1038.08 L369.67,1043.88 L370.05,1048.31 L370.43,1051.36 L370.80,1053.00 L376.20,1053.00 L375.83,1051.36 L375.45,1048.31 L375.07,1043.88 L374.69,1038.08 L374.32,1030.95 L373.94,1022.53 L373.56,1012.86 L373.18,1002.02 L372.81,990.06 L372.43,977.04 L372.05,963.05 L371.67,948.17 L371.30,932.48 L370.92,916.08 Z" stroke="#0a0a0a" stroke-width="1.9" fill="#161616" stroke-linejoin="round" stroke-linecap="round" />
<path d="M368.62,924.74 L368.97,939.90 L369.33,954.39 L369.69,968.12 L370.04,981.04 L370.40,993.06 L370.75,1004.13 L371.11,1014.20 L371.47,1023.20 L371.82,1031.09 L372.18,1037.83 L372.54,1043.39 L372.89,1047.74 L373.25,1050.85 L373.60,1052.70" stroke="#b0b0b0" stroke-width="1.2" fill="none" stroke-linejoin="round" stroke-linecap="round" stroke-dasharray="3.4 2.0" stroke-linecap="butt"/>
<path d="M345.39,755.90 L345.93,755.90 L346.47,755.90 L347.01,755.90 L347.55,755.90 L348.09,755.90 L348.63,755.90 L349.18,755.90 L349.72,755.90 L350.26,755.90 L350.80,755.90 L351.34,755.90 L351.88,755.90 L352.42,755.90 L352.93,754.63 L353.39,750.66 L353.85,746.92 L354.32,743.37 L354.79,739.99 L355.26,736.75 L355.74,733.63 L356.22,730.62 L356.70,727.71 L357.19,724.88 L357.67,722.14 L358.16,719.46 L358.65,716.86 L359.14,714.31 L359.64,711.82 L360.13,709.38 L360.63,706.98 L361.13,704.63 L361.66,704.42 L362.20,704.42 L362.74,704.42 L363.28,704.42 L363.82,704.42 L364.36,704.42 L364.90,704.42 L365.44,704.42 L365.98,704.42 L366.54,705.02 L367.11,707.15 L367.70,709.31 L368.28,711.51 L368.86,713.76 L369.44,716.05 L370.03,718.38 L370.61,720.77 L371.20,723.22 L371.79,725.72 L372.38,728.29 L372.98,730.94 L373.57,733.66 L374.17,736.48 L374.77,739.39 L375.37,742.42 L375.98,745.57 L376.58,748.88 L377.20,752.35 L377.81,755.90" stroke="#0a0a0a" stroke-width="2.0" fill="none" stroke-linejoin="round" stroke-linecap="round" />
<path d="M347.80,864.60 L348.34,864.60 L348.88,864.60 L349.42,864.60 L349.96,864.60 L350.50,864.60 L351.04,864.60 L351.58,864.60 L352.12,864.60 L352.66,864.60 L353.20,864.60 L353.74,864.60 L354.28,864.60 L354.82,864.60 L355.39,865.87 L356.01,869.84 L356.63,873.58 L357.25,877.13 L357.86,880.51 L358.46,883.75 L359.06,886.87 L359.67,889.88 L360.26,892.79 L360.86,895.62 L361.45,898.36 L362.05,901.04 L362.64,903.64 L363.22,906.19 L363.81,908.68 L364.40,911.12 L364.98,913.52 L365.57,915.87 L366.11,916.08 L366.65,916.08 L367.19,916.08 L367.73,916.08 L368.27,916.08 L368.81,916.08 L369.35,916.08 L369.89,916.08 L370.43,916.08 L370.96,915.48 L371.46,913.35 L371.96,911.19 L372.46,908.99 L372.96,906.74 L373.46,904.45 L373.95,902.12 L374.45,899.73 L374.94,897.28 L375.43,894.78 L375.92,892.21 L376.41,889.56 L376.89,886.84 L377.38,884.02 L377.86,881.11 L378.34,878.08 L378.81,874.93 L379.28,871.62 L379.75,868.15 L380.22,864.60" stroke="#0a0a0a" stroke-width="2.0" fill="none" stroke-linejoin="round" stroke-linecap="round" />
<path d="M371.26,584.80 L378.66,584.80 L386.86,569.40 Q388.06,566.70 390.66,566.70 Q393.26,566.70 394.46,569.40 L403.66,584.80" stroke="#0a0a0a" stroke-width="2.2" fill="none" stroke-linejoin="round" stroke-linecap="round" />
<path d="M371.26,584.80 L371.73,585.81 L372.20,588.84 L372.66,593.86 L373.13,600.82 L373.60,609.66 L374.07,620.30 L374.54,632.65 L375.00,646.60 L375.47,662.01 L375.94,678.76 L376.41,696.68 L376.88,715.63 L377.34,735.43 L377.81,755.90" stroke="#0a0a0a" stroke-width="2.0" fill="none" stroke-linejoin="round" stroke-linecap="round" />
<path d="M378.66,584.80 L379.13,585.81 L379.60,588.84 L380.06,593.86 L380.53,600.82 L381.00,609.66 L381.47,620.30 L381.94,632.65 L382.40,646.60 L382.87,662.01 L383.34,678.76 L383.81,696.68 L384.28,715.63 L384.74,735.43 L385.21,755.90" stroke="#0a0a0a" stroke-width="2.0" fill="none" stroke-linejoin="round" stroke-linecap="round" />
<path d="M403.66,584.80 L404.13,585.81 L404.60,588.84 L405.06,593.86 L405.53,600.82 L406.00,609.66 L406.47,620.30 L406.94,632.65 L407.40,646.60 L407.87,662.01 L408.34,678.76 L408.81,696.68 L409.28,715.63 L409.74,735.43 L410.21,755.90" stroke="#0a0a0a" stroke-width="2.0" fill="none" stroke-linejoin="round" stroke-linecap="round" />
<path d="M388.21,567.50 L388.58,569.14 L388.96,572.19 L389.34,576.62 L389.72,582.42 L390.09,589.55 L390.47,597.97 L390.85,607.64 L391.23,618.48 L391.60,630.44 L391.98,643.46 L392.36,657.45 L392.74,672.33 L393.11,688.02 L393.49,704.42 L398.89,704.42 L398.51,688.02 L398.14,672.33 L397.76,657.45 L397.38,643.46 L397.00,630.44 L396.63,618.48 L396.25,607.64 L395.87,597.97 L395.49,589.55 L395.12,582.42 L394.74,576.62 L394.36,572.19 L393.98,569.14 L393.61,567.50 Z" stroke="#0a0a0a" stroke-width="1.9" fill="#161616" stroke-linejoin="round" stroke-linecap="round" />
<path d="M391.30,568.18 L391.66,570.39 L392.02,573.84 L392.37,578.53 L392.73,584.42 L393.09,591.48 L393.44,599.69 L393.80,608.99 L394.15,619.34 L394.51,630.68 L394.87,642.96 L395.22,656.10 L395.58,670.05 L395.94,684.73 L396.29,700.07" stroke="#b0b0b0" stroke-width="1.2" fill="none" stroke-linejoin="round" stroke-linecap="round" stroke-dasharray="3.4 2.0" stroke-linecap="butt"/>
<path d="M386.77,1035.70 L394.17,1035.70 L402.37,1051.10 Q403.57,1053.80 406.17,1053.80 Q408.77,1053.80 409.97,1051.10 L419.17,1035.70" stroke="#0a0a0a" stroke-width="2.2" fill="none" stroke-linejoin="round" stroke-linecap="round" />
<path d="M380.22,864.60 L380.69,885.07 L381.15,904.87 L381.62,923.82 L382.09,941.74 L382.56,958.49 L383.03,973.90 L383.49,987.85 L383.96,1000.20 L384.43,1010.84 L384.90,1019.68 L385.37,1026.64 L385.83,1031.66 L386.30,1034.69 L386.77,1035.70" stroke="#0a0a0a" stroke-width="2.0" fill="none" stroke-linejoin="round" stroke-linecap="round" />
<path d="M387.62,864.60 L388.09,885.07 L388.55,904.87 L389.02,923.82 L389.49,941.74 L389.96,958.49 L390.43,973.90 L390.89,987.85 L391.36,1000.20 L391.83,1010.84 L392.30,1019.68 L392.77,1026.64 L393.23,1031.66 L393.70,1034.69 L394.17,1035.70" stroke="#0a0a0a" stroke-width="2.0" fill="none" stroke-linejoin="round" stroke-linecap="round" />
<path d="M412.62,864.60 L413.09,885.07 L413.55,904.87 L414.02,923.82 L414.49,941.74 L414.96,958.49 L415.43,973.90 L415.89,987.85 L416.36,1000.20 L416.83,1010.84 L417.30,1019.68 L417.77,1026.64 L418.23,1031.66 L418.70,1034.69 L419.17,1035.70" stroke="#0a0a0a" stroke-width="2.0" fill="none" stroke-linejoin="round" stroke-linecap="round" />
<path d="M397.94,916.08 L398.32,932.48 L398.69,948.17 L399.07,963.05 L399.45,977.04 L399.83,990.06 L400.20,1002.02 L400.58,1012.86 L400.96,1022.53 L401.34,1030.95 L401.71,1038.08 L402.09,1043.88 L402.47,1048.31 L402.85,1051.36 L403.22,1053.00 L408.62,1053.00 L408.25,1051.36 L407.87,1048.31 L407.49,1043.88 L407.11,1038.08 L406.74,1030.95 L406.36,1022.53 L405.98,1012.86 L405.60,1002.02 L405.23,990.06 L404.85,977.04 L404.47,963.05 L404.09,948.17 L403.72,932.48 L403.34,916.08 Z" stroke="#0a0a0a" stroke-width="1.9" fill="#161616" stroke-linejoin="round" stroke-linecap="round" />
<path d="M401.04,924.74 L401.39,939.90 L401.75,954.39 L402.11,968.12 L402.46,981.04 L402.82,993.06 L403.17,1004.13 L403.53,1014.20 L403.89,1023.20 L404.24,1031.09 L404.60,1037.83 L404.96,1043.39 L405.31,1047.74 L405.67,1050.85 L406.02,1052.70" stroke="#b0b0b0" stroke-width="1.2" fill="none" stroke-linejoin="round" stroke-linecap="round" stroke-dasharray="3.4 2.0" stroke-linecap="butt"/>
<path d="M377.81,755.90 L378.35,755.90 L378.89,755.90 L379.43,755.90 L379.97,755.90 L380.51,755.90 L381.05,755.90 L381.60,755.90 L382.14,755.90 L382.68,755.90 L383.22,755.90 L383.76,755.90 L384.30,755.90 L384.84,755.90 L385.35,754.63 L385.81,750.66 L386.27,746.92 L386.74,743.37 L387.21,739.99 L387.68,736.75 L388.16,733.63 L388.64,730.62 L389.12,727.71 L389.61,724.88 L390.09,722.14 L390.58,719.46 L391.07,716.86 L391.56,714.31 L392.06,711.82 L392.55,709.38 L393.05,706.98 L393.55,704.63 L394.08,704.42 L394.62,704.42 L395.16,704.42 L395.70,704.42 L396.24,704.42 L396.78,704.42 L397.32,704.42 L397.86,704.42 L398.40,704.42 L398.96,705.02 L399.53,707.15 L400.12,709.31 L400.70,711.51 L401.28,713.76 L401.86,716.05 L402.45,718.38 L403.03,720.77 L403.62,723.22 L404.21,725.72 L404.80,728.29 L405.40,730.94 L405.99,733.66 L406.59,736.48 L407.19,739.39 L407.79,742.42 L408.40,745.57 L409.00,748.88 L409.62,752.35 L410.23,755.90" stroke="#0a0a0a" stroke-width="2.0" fill="none" stroke-linejoin="round" stroke-linecap="round" />
<path d="M380.22,864.60 L380.76,864.60 L381.30,864.60 L381.84,864.60 L382.38,864.60 L382.92,864.60 L383.46,864.60 L384.00,864.60 L384.54,864.60 L385.08,864.60 L385.62,864.60 L386.16,864.60 L386.70,864.60 L387.24,864.60 L387.81,865.87 L388.43,869.84 L389.05,873.58 L389.67,877.13 L390.28,880.51 L390.88,883.75 L391.48,886.87 L392.09,889.88 L392.68,892.79 L393.28,895.62 L393.87,898.36 L394.47,901.04 L395.06,903.64 L395.64,906.19 L396.23,908.68 L396.82,911.12 L397.40,913.52 L397.99,915.87 L398.53,916.08 L399.07,916.08 L399.61,916.08 L400.15,916.08 L400.69,916.08 L401.23,916.08 L401.77,916.08 L402.31,916.08 L402.85,916.08 L403.38,915.48 L403.88,913.35 L404.38,911.19 L404.88,908.99 L405.38,906.74 L405.88,904.45 L406.37,902.12 L406.87,899.73 L407.36,897.28 L407.85,894.78 L408.34,892.21 L408.83,889.56 L409.31,886.84 L409.80,884.02 L410.28,881.11 L410.76,878.08 L411.23,874.93 L411.70,871.62 L412.17,868.15 L412.64,864.60" stroke="#0a0a0a" stroke-width="2.0" fill="none" stroke-linejoin="round" stroke-linecap="round" />
<path d="M403.68,584.80 L411.08,584.80 L419.28,569.40 Q420.48,566.70 423.08,566.70 Q425.68,566.70 426.88,569.40 L436.08,584.80" stroke="#0a0a0a" stroke-width="2.2" fill="none" stroke-linejoin="round" stroke-linecap="round" />
<path d="M403.68,584.80 L404.15,585.81 L404.62,588.84 L405.08,593.86 L405.55,600.82 L406.02,609.66 L406.49,620.30 L406.96,632.65 L407.42,646.60 L407.89,662.01 L408.36,678.76 L408.83,696.68 L409.30,715.63 L409.76,735.43 L410.23,755.90" stroke="#0a0a0a" stroke-width="2.0" fill="none" stroke-linejoin="round" stroke-linecap="round" />
<path d="M411.08,584.80 L411.55,585.81 L412.02,588.84 L412.48,593.86 L412.95,600.82 L413.42,609.66 L413.89,620.30 L414.36,632.65 L414.82,646.60 L415.29,662.01 L415.76,678.76 L416.23,696.68 L416.70,715.63 L417.16,735.43 L417.63,755.90" stroke="#0a0a0a" stroke-width="2.0" fill="none" stroke-linejoin="round" stroke-linecap="round" />
<path d="M436.08,584.80 L436.55,585.81 L437.02,588.84 L437.48,593.86 L437.95,600.82 L438.42,609.66 L438.89,620.30 L439.36,632.65 L439.82,646.60 L440.29,662.01 L440.76,678.76 L441.23,696.68 L441.70,715.63 L442.16,735.43 L442.63,755.90" stroke="#0a0a0a" stroke-width="2.0" fill="none" stroke-linejoin="round" stroke-linecap="round" />
<path d="M420.63,567.50 L421.00,569.14 L421.38,572.19 L421.76,576.62 L422.14,582.42 L422.51,589.55 L422.89,597.97 L423.27,607.64 L423.65,618.48 L424.02,630.44 L424.40,643.46 L424.78,657.45 L425.16,672.33 L425.53,688.02 L425.91,704.42 L431.31,704.42 L430.93,688.02 L430.56,672.33 L430.18,657.45 L429.80,643.46 L429.42,630.44 L429.05,618.48 L428.67,607.64 L428.29,597.97 L427.91,589.55 L427.54,582.42 L427.16,576.62 L426.78,572.19 L426.40,569.14 L426.03,567.50 Z" stroke="#0a0a0a" stroke-width="1.9" fill="#161616" stroke-linejoin="round" stroke-linecap="round" />
<path d="M423.72,568.18 L424.08,570.39 L424.44,573.84 L424.79,578.53 L425.15,584.42 L425.51,591.48 L425.86,599.69 L426.22,608.99 L426.57,619.34 L426.93,630.68 L427.29,642.96 L427.64,656.10 L428.00,670.05 L428.36,684.73 L428.71,700.07" stroke="#b0b0b0" stroke-width="1.2" fill="none" stroke-linejoin="round" stroke-linecap="round" stroke-dasharray="3.4 2.0" stroke-linecap="butt"/>
<path d="M419.19,1035.70 L426.59,1035.70 L434.79,1051.10 Q435.99,1053.80 438.59,1053.80 Q441.19,1053.80 442.39,1051.10 L451.59,1035.70" stroke="#0a0a0a" stroke-width="2.2" fill="none" stroke-linejoin="round" stroke-linecap="round" />
<path d="M412.64,864.60 L413.11,885.07 L413.57,904.87 L414.04,923.82 L414.51,941.74 L414.98,958.49 L415.45,973.90 L415.91,987.85 L416.38,1000.20 L416.85,1010.84 L417.32,1019.68 L417.79,1026.64 L418.25,1031.66 L418.72,1034.69 L419.19,1035.70" stroke="#0a0a0a" stroke-width="2.0" fill="none" stroke-linejoin="round" stroke-linecap="round" />
<path d="M420.04,864.60 L420.51,885.07 L420.97,904.87 L421.44,923.82 L421.91,941.74 L422.38,958.49 L422.85,973.90 L423.31,987.85 L423.78,1000.20 L424.25,1010.84 L424.72,1019.68 L425.19,1026.64 L425.65,1031.66 L426.12,1034.69 L426.59,1035.70" stroke="#0a0a0a" stroke-width="2.0" fill="none" stroke-linejoin="round" stroke-linecap="round" />
<path d="M445.04,864.60 L445.51,885.07 L445.97,904.87 L446.44,923.82 L446.91,941.74 L447.38,958.49 L447.85,973.90 L448.31,987.85 L448.78,1000.20 L449.25,1010.84 L449.72,1019.68 L450.19,1026.64 L450.65,1031.66 L451.12,1034.69 L451.59,1035.70" stroke="#0a0a0a" stroke-width="2.0" fill="none" stroke-linejoin="round" stroke-linecap="round" />
<path d="M430.36,916.08 L430.74,932.48 L431.11,948.17 L431.49,963.05 L431.87,977.04 L432.25,990.06 L432.62,1002.02 L433.00,1012.86 L433.38,1022.53 L433.76,1030.95 L434.13,1038.08 L434.51,1043.88 L434.89,1048.31 L435.27,1051.36 L435.64,1053.00 L441.04,1053.00 L440.67,1051.36 L440.29,1048.31 L439.91,1043.88 L439.53,1038.08 L439.16,1030.95 L438.78,1022.53 L438.40,1012.86 L438.02,1002.02 L437.65,990.06 L437.27,977.04 L436.89,963.05 L436.51,948.17 L436.14,932.48 L435.76,916.08 Z" stroke="#0a0a0a" stroke-width="1.9" fill="#161616" stroke-linejoin="round" stroke-linecap="round" />
<path d="M433.46,924.74 L433.81,939.90 L434.17,954.39 L434.53,968.12 L434.88,981.04 L435.24,993.06 L435.59,1004.13 L435.95,1014.20 L436.31,1023.20 L436.66,1031.09 L437.02,1037.83 L437.38,1043.39 L437.73,1047.74 L438.09,1050.85 L438.44,1052.70" stroke="#b0b0b0" stroke-width="1.2" fill="none" stroke-linejoin="round" stroke-linecap="round" stroke-dasharray="3.4 2.0" stroke-linecap="butt"/>
<path d="M410.23,755.90 L410.77,755.90 L411.31,755.90 L411.85,755.90 L412.39,755.90 L412.93,755.90 L413.47,755.90 L414.02,755.90 L414.56,755.90 L415.10,755.90 L415.64,755.90 L416.18,755.90 L416.72,755.90 L417.26,755.90 L417.77,754.63 L418.23,750.66 L418.69,746.92 L419.16,743.37 L419.63,739.99 L420.10,736.75 L420.58,733.63 L421.06,730.62 L421.54,727.71 L422.03,724.88 L422.51,722.14 L423.00,719.46 L423.49,716.86 L423.98,714.31 L424.48,711.82 L424.97,709.38 L425.47,706.98 L425.97,704.63 L426.50,704.42 L427.04,704.42 L427.58,704.42 L428.12,704.42 L428.66,704.42 L429.20,704.42 L429.74,704.42 L430.28,704.42 L430.82,704.42 L431.38,705.02 L431.95,707.15 L432.54,709.31 L433.12,711.51 L433.70,713.76 L434.28,716.05 L434.87,718.38 L435.45,720.77 L436.04,723.22 L436.63,725.72 L437.22,728.29 L437.82,730.94 L438.41,733.66 L439.01,736.48 L439.61,739.39 L440.21,742.42 L440.82,745.57 L441.42,748.88 L442.04,752.35 L442.65,755.90" stroke="#0a0a0a" stroke-width="2.0" fill="none" stroke-linejoin="round" stroke-linecap="round" />
<path d="M412.64,864.60 L413.18,864.60 L413.72,864.60 L414.26,864.60 L414.80,864.60 L415.34,864.60 L415.88,864.60 L416.42,864.60 L416.96,864.60 L417.50,864.60 L418.04,864.60 L418.58,864.60 L419.12,864.60 L419.66,864.60 L420.23,865.87 L420.85,869.84 L421.47,873.58 L422.09,877.13 L422.70,880.51 L423.30,883.75 L423.90,886.87 L424.51,889.88 L425.10,892.79 L425.70,895.62 L426.29,898.36 L426.89,901.04 L427.48,903.64 L428.06,906.19 L428.65,908.68 L429.24,911.12 L429.82,913.52 L430.41,915.87 L430.95,916.08 L431.49,916.08 L432.03,916.08 L432.57,916.08 L433.11,916.08 L433.65,916.08 L434.19,916.08 L434.73,916.08 L435.27,916.08 L435.80,915.48 L436.30,913.35 L436.80,911.19 L437.30,908.99 L437.80,906.74 L438.30,904.45 L438.79,902.12 L439.29,899.73 L439.78,897.28 L440.27,894.78 L440.76,892.21 L441.25,889.56 L441.73,886.84 L442.22,884.02 L442.70,881.11 L443.18,878.08 L443.65,874.93 L444.12,871.62 L444.59,868.15 L445.06,864.60" stroke="#0a0a0a" stroke-width="2.0" fill="none" stroke-linejoin="round" stroke-linecap="round" />
<path d="M436.10,584.80 L443.50,584.80 L451.70,569.40 Q452.90,566.70 455.50,566.70 Q458.10,566.70 459.30,569.40 L468.50,584.80" stroke="#0a0a0a" stroke-width="2.2" fill="none" stroke-linejoin="round" stroke-linecap="round" />
<path d="M436.10,584.80 L436.57,585.81 L437.04,588.84 L437.50,593.86 L437.97,600.82 L438.44,609.66 L438.91,620.30 L439.38,632.65 L439.84,646.60 L440.31,662.01 L440.78,678.76 L441.25,696.68 L441.72,715.63 L442.18,735.43 L442.65,755.90" stroke="#0a0a0a" stroke-width="2.0" fill="none" stroke-linejoin="round" stroke-linecap="round" />
<path d="M443.50,584.80 L443.97,585.81 L444.44,588.84 L444.90,593.86 L445.37,600.82 L445.84,609.66 L446.31,620.30 L446.78,632.65 L447.24,646.60 L447.71,662.01 L448.18,678.76 L448.65,696.68 L449.12,715.63 L449.58,735.43 L450.05,755.90" stroke="#0a0a0a" stroke-width="2.0" fill="none" stroke-linejoin="round" stroke-linecap="round" />
<path d="M468.50,584.80 L468.97,585.81 L469.44,588.84 L469.90,593.86 L470.37,600.82 L470.84,609.66 L471.31,620.30 L471.78,632.65 L472.24,646.60 L472.71,662.01 L473.18,678.76 L473.65,696.68 L474.12,715.63 L474.58,735.43 L475.05,755.90" stroke="#0a0a0a" stroke-width="2.0" fill="none" stroke-linejoin="round" stroke-linecap="round" />
<path d="M453.05,567.50 L453.42,569.14 L453.80,572.19 L454.18,576.62 L454.56,582.42 L454.93,589.55 L455.31,597.97 L455.69,607.64 L456.07,618.48 L456.44,630.44 L456.82,643.46 L457.20,657.45 L457.58,672.33 L457.95,688.02 L458.33,704.42 L463.73,704.42 L463.35,688.02 L462.98,672.33 L462.60,657.45 L462.22,643.46 L461.84,630.44 L461.47,618.48 L461.09,607.64 L460.71,597.97 L460.33,589.55 L459.96,582.42 L459.58,576.62 L459.20,572.19 L458.82,569.14 L458.45,567.50 Z" stroke="#0a0a0a" stroke-width="1.9" fill="#161616" stroke-linejoin="round" stroke-linecap="round" />
<path d="M456.14,568.18 L456.50,570.39 L456.86,573.84 L457.21,578.53 L457.57,584.42 L457.93,591.48 L458.28,599.69 L458.64,608.99 L458.99,619.34 L459.35,630.68 L459.71,642.96 L460.06,656.10 L460.42,670.05 L460.78,684.73 L461.13,700.07" stroke="#b0b0b0" stroke-width="1.2" fill="none" stroke-linejoin="round" stroke-linecap="round" stroke-dasharray="3.4 2.0" stroke-linecap="butt"/>
<path d="M451.61,1035.70 L459.01,1035.70 L467.21,1051.10 Q468.41,1053.80 471.01,1053.80 Q473.61,1053.80 474.81,1051.10 L484.01,1035.70" stroke="#0a0a0a" stroke-width="2.2" fill="none" stroke-linejoin="round" stroke-linecap="round" />
<path d="M445.06,864.60 L445.53,885.07 L445.99,904.87 L446.46,923.82 L446.93,941.74 L447.40,958.49 L447.87,973.90 L448.33,987.85 L448.80,1000.20 L449.27,1010.84 L449.74,1019.68 L450.21,1026.64 L450.67,1031.66 L451.14,1034.69 L451.61,1035.70" stroke="#0a0a0a" stroke-width="2.0" fill="none" stroke-linejoin="round" stroke-linecap="round" />
<path d="M452.46,864.60 L452.93,885.07 L453.39,904.87 L453.86,923.82 L454.33,941.74 L454.80,958.49 L455.27,973.90 L455.73,987.85 L456.20,1000.20 L456.67,1010.84 L457.14,1019.68 L457.61,1026.64 L458.07,1031.66 L458.54,1034.69 L459.01,1035.70" stroke="#0a0a0a" stroke-width="2.0" fill="none" stroke-linejoin="round" stroke-linecap="round" />
<path d="M477.46,864.60 L477.93,885.07 L478.39,904.87 L478.86,923.82 L479.33,941.74 L479.80,958.49 L480.27,973.90 L480.73,987.85 L481.20,1000.20 L481.67,1010.84 L482.14,1019.68 L482.61,1026.64 L483.07,1031.66 L483.54,1034.69 L484.01,1035.70" stroke="#0a0a0a" stroke-width="2.0" fill="none" stroke-linejoin="round" stroke-linecap="round" />
<path d="M462.78,916.08 L463.16,932.48 L463.53,948.17 L463.91,963.05 L464.29,977.04 L464.67,990.06 L465.04,1002.02 L465.42,1012.86 L465.80,1022.53 L466.18,1030.95 L466.55,1038.08 L466.93,1043.88 L467.31,1048.31 L467.69,1051.36 L468.06,1053.00 L473.46,1053.00 L473.09,1051.36 L472.71,1048.31 L472.33,1043.88 L471.95,1038.08 L471.58,1030.95 L471.20,1022.53 L470.82,1012.86 L470.44,1002.02 L470.07,990.06 L469.69,977.04 L469.31,963.05 L468.93,948.17 L468.56,932.48 L468.18,916.08 Z" stroke="#0a0a0a" stroke-width="1.9" fill="#161616" stroke-linejoin="round" stroke-linecap="round" />
<path d="M465.88,924.74 L466.23,939.90 L466.59,954.39 L466.95,968.12 L467.30,981.04 L467.66,993.06 L468.01,1004.13 L468.37,1014.20 L468.73,1023.20 L469.08,1031.09 L469.44,1037.83 L469.80,1043.39 L470.15,1047.74 L470.51,1050.85 L470.86,1052.70" stroke="#b0b0b0" stroke-width="1.2" fill="none" stroke-linejoin="round" stroke-linecap="round" stroke-dasharray="3.4 2.0" stroke-linecap="butt"/>
<path d="M442.65,755.90 L443.19,755.90 L443.73,755.90 L444.27,755.90 L444.81,755.90 L445.35,755.90 L445.89,755.90 L446.44,755.90 L446.98,755.90 L447.52,755.90 L448.06,755.90 L448.60,755.90 L449.14,755.90 L449.68,755.90 L450.19,754.63 L450.65,750.66 L451.11,746.92 L451.58,743.37 L452.05,739.99 L452.52,736.75 L453.00,733.63 L453.48,730.62 L453.96,727.71 L454.45,724.88 L454.93,722.14 L455.42,719.46 L455.91,716.86 L456.40,714.31 L456.90,711.82 L457.39,709.38 L457.89,706.98 L458.39,704.63 L458.92,704.42 L459.46,704.42 L460.00,704.42 L460.54,704.42 L461.08,704.42 L461.62,704.42 L462.16,704.42 L462.70,704.42 L463.24,704.42 L463.80,705.02 L464.37,707.15 L464.96,709.31 L465.54,711.51 L466.12,713.76 L466.70,716.05 L467.29,718.38 L467.87,720.77 L468.46,723.22 L469.05,725.72 L469.64,728.29 L470.24,730.94 L470.83,733.66 L471.43,736.48 L472.03,739.39 L472.63,742.42 L473.24,745.57 L473.84,748.88 L474.46,752.35 L475.07,755.90" stroke="#0a0a0a" stroke-width="2.0" fill="none" stroke-linejoin="round" stroke-linecap="round" />
<path d="M445.06,864.60 L445.60,864.60 L446.14,864.60 L446.68,864.60 L447.22,864.60 L447.76,864.60 L448.30,864.60 L448.84,864.60 L449.38,864.60 L449.92,864.60 L450.46,864.60 L451.00,864.60 L451.54,864.60 L452.08,864.60 L452.65,865.87 L453.27,869.84 L453.89,873.58 L454.51,877.13 L455.12,880.51 L455.72,883.75 L456.32,886.87 L456.93,889.88 L457.52,892.79 L458.12,895.62 L458.71,898.36 L459.31,901.04 L459.90,903.64 L460.48,906.19 L461.07,908.68 L461.66,911.12 L462.24,913.52 L462.83,915.87 L463.37,916.08 L463.91,916.08 L464.45,916.08 L464.99,916.08 L465.53,916.08 L466.07,916.08 L466.61,916.08 L467.15,916.08 L467.69,916.08 L468.22,915.48 L468.72,913.35 L469.22,911.19 L469.72,908.99 L470.22,906.74 L470.72,904.45 L471.21,902.12 L471.71,899.73 L472.20,897.28 L472.69,894.78 L473.18,892.21 L473.67,889.56 L474.15,886.84 L474.64,884.02 L475.12,881.11 L475.60,878.08 L476.07,874.93 L476.54,871.62 L477.01,868.15 L477.48,864.60" stroke="#0a0a0a" stroke-width="2.0" fill="none" stroke-linejoin="round" stroke-linecap="round" />
<path d="M468.52,584.80 L475.92,584.80 L484.12,569.40 Q485.32,566.70 487.92,566.70 Q490.52,566.70 491.72,569.40 L500.92,584.80" stroke="#0a0a0a" stroke-width="2.2" fill="none" stroke-linejoin="round" stroke-linecap="round" />
<path d="M468.52,584.80 L468.99,585.81 L469.46,588.84 L469.92,593.86 L470.39,600.82 L470.86,609.66 L471.33,620.30 L471.80,632.65 L472.26,646.60 L472.73,662.01 L473.20,678.76 L473.67,696.68 L474.14,715.63 L474.60,735.43 L475.07,755.90" stroke="#0a0a0a" stroke-width="2.0" fill="none" stroke-linejoin="round" stroke-linecap="round" />
<path d="M475.92,584.80 L476.39,585.81 L476.86,588.84 L477.32,593.86 L477.79,600.82 L478.26,609.66 L478.73,620.30 L479.20,632.65 L479.66,646.60 L480.13,662.01 L480.60,678.76 L481.07,696.68 L481.54,715.63 L482.00,735.43 L482.47,755.90" stroke="#0a0a0a" stroke-width="2.0" fill="none" stroke-linejoin="round" stroke-linecap="round" />
<path d="M500.92,584.80 L501.39,585.81 L501.86,588.84 L502.32,593.86 L502.79,600.82 L503.26,609.66 L503.73,620.30 L504.20,632.65 L504.66,646.60 L505.13,662.01 L505.60,678.76 L506.07,696.68 L506.54,715.63 L507.00,735.43 L507.47,755.90" stroke="#0a0a0a" stroke-width="2.0" fill="none" stroke-linejoin="round" stroke-linecap="round" />
<path d="M485.47,567.50 L485.84,569.14 L486.22,572.19 L486.60,576.62 L486.98,582.42 L487.35,589.55 L487.73,597.97 L488.11,607.64 L488.49,618.48 L488.86,630.44 L489.24,643.46 L489.62,657.45 L490.00,672.33 L490.37,688.02 L490.75,704.42 L496.15,704.42 L495.77,688.02 L495.40,672.33 L495.02,657.45 L494.64,643.46 L494.26,630.44 L493.89,618.48 L493.51,607.64 L493.13,597.97 L492.75,589.55 L492.38,582.42 L492.00,576.62 L491.62,572.19 L491.24,569.14 L490.87,567.50 Z" stroke="#0a0a0a" stroke-width="1.9" fill="#161616" stroke-linejoin="round" stroke-linecap="round" />
<path d="M488.56,568.18 L488.92,570.39 L489.28,573.84 L489.63,578.53 L489.99,584.42 L490.35,591.48 L490.70,599.69 L491.06,608.99 L491.41,619.34 L491.77,630.68 L492.13,642.96 L492.48,656.10 L492.84,670.05 L493.20,684.73 L493.55,700.07" stroke="#b0b0b0" stroke-width="1.2" fill="none" stroke-linejoin="round" stroke-linecap="round" stroke-dasharray="3.4 2.0" stroke-linecap="butt"/>
<path d="M484.03,1035.70 L491.43,1035.70 L499.63,1051.10 Q500.83,1053.80 503.43,1053.80 Q506.03,1053.80 507.23,1051.10 L516.43,1035.70" stroke="#0a0a0a" stroke-width="2.2" fill="none" stroke-linejoin="round" stroke-linecap="round" />
<path d="M477.48,864.60 L477.95,885.07 L478.41,904.87 L478.88,923.82 L479.35,941.74 L479.82,958.49 L480.29,973.90 L480.75,987.85 L481.22,1000.20 L481.69,1010.84 L482.16,1019.68 L482.63,1026.64 L483.09,1031.66 L483.56,1034.69 L484.03,1035.70" stroke="#0a0a0a" stroke-width="2.0" fill="none" stroke-linejoin="round" stroke-linecap="round" />
<path d="M484.88,864.60 L485.35,885.07 L485.81,904.87 L486.28,923.82 L486.75,941.74 L487.22,958.49 L487.69,973.90 L488.15,987.85 L488.62,1000.20 L489.09,1010.84 L489.56,1019.68 L490.03,1026.64 L490.49,1031.66 L490.96,1034.69 L491.43,1035.70" stroke="#0a0a0a" stroke-width="2.0" fill="none" stroke-linejoin="round" stroke-linecap="round" />
<path d="M509.88,864.60 L510.35,885.07 L510.81,904.87 L511.28,923.82 L511.75,941.74 L512.22,958.49 L512.69,973.90 L513.15,987.85 L513.62,1000.20 L514.09,1010.84 L514.56,1019.68 L515.03,1026.64 L515.49,1031.66 L515.96,1034.69 L516.43,1035.70" stroke="#0a0a0a" stroke-width="2.0" fill="none" stroke-linejoin="round" stroke-linecap="round" />
<path d="M495.20,916.08 L495.58,932.48 L495.95,948.17 L496.33,963.05 L496.71,977.04 L497.09,990.06 L497.46,1002.02 L497.84,1012.86 L498.22,1022.53 L498.60,1030.95 L498.97,1038.08 L499.35,1043.88 L499.73,1048.31 L500.11,1051.36 L500.48,1053.00 L505.88,1053.00 L505.51,1051.36 L505.13,1048.31 L504.75,1043.88 L504.37,1038.08 L504.00,1030.95 L503.62,1022.53 L503.24,1012.86 L502.86,1002.02 L502.49,990.06 L502.11,977.04 L501.73,963.05 L501.35,948.17 L500.98,932.48 L500.60,916.08 Z" stroke="#0a0a0a" stroke-width="1.9" fill="#161616" stroke-linejoin="round" stroke-linecap="round" />
<path d="M498.30,924.74 L498.65,939.90 L499.01,954.39 L499.37,968.12 L499.72,981.04 L500.08,993.06 L500.43,1004.13 L500.79,1014.20 L501.15,1023.20 L501.50,1031.09 L501.86,1037.83 L502.22,1043.39 L502.57,1047.74 L502.93,1050.85 L503.28,1052.70" stroke="#b0b0b0" stroke-width="1.2" fill="none" stroke-linejoin="round" stroke-linecap="round" stroke-dasharray="3.4 2.0" stroke-linecap="butt"/>
<path d="M475.07,755.90 L475.61,755.90 L476.15,755.90 L476.69,755.90 L477.23,755.90 L477.77,755.90 L478.31,755.90 L478.86,755.90 L479.40,755.90 L479.94,755.90 L480.48,755.90 L481.02,755.90 L481.56,755.90 L482.10,755.90 L482.61,754.63 L483.07,750.66 L483.53,746.92 L484.00,743.37 L484.47,739.99 L484.94,736.75 L485.42,733.63 L485.90,730.62 L486.38,727.71 L486.87,724.88 L487.35,722.14 L487.84,719.46 L488.33,716.86 L488.82,714.31 L489.32,711.82 L489.81,709.38 L490.31,706.98 L490.81,704.63 L491.34,704.42 L491.88,704.42 L492.42,704.42 L492.96,704.42 L493.50,704.42 L494.04,704.42 L494.58,704.42 L495.12,704.42 L495.66,704.42 L496.22,705.02 L496.79,707.15 L497.38,709.31 L497.96,711.51 L498.54,713.76 L499.12,716.05 L499.71,718.38 L500.29,720.77 L500.88,723.22 L501.47,725.72 L502.06,728.29 L502.66,730.94 L503.25,733.66 L503.85,736.48 L504.45,739.39 L505.05,742.42 L505.66,745.57 L506.26,748.88 L506.88,752.35 L507.49,755.90" stroke="#0a0a0a" stroke-width="2.0" fill="none" stroke-linejoin="round" stroke-linecap="round" />
<path d="M477.48,864.60 L478.02,864.60 L478.56,864.60 L479.10,864.60 L479.64,864.60 L480.18,864.60 L480.72,864.60 L481.26,864.60 L481.80,864.60 L482.34,864.60 L482.88,864.60 L483.42,864.60 L483.96,864.60 L484.50,864.60 L485.07,865.87 L485.69,869.84 L486.31,873.58 L486.93,877.13 L487.54,880.51 L488.14,883.75 L488.74,886.87 L489.35,889.88 L489.94,892.79 L490.54,895.62 L491.13,898.36 L491.73,901.04 L492.32,903.64 L492.90,906.19 L493.49,908.68 L494.08,911.12 L494.66,913.52 L495.25,915.87 L495.79,916.08 L496.33,916.08 L496.87,916.08 L497.41,916.08 L497.95,916.08 L498.49,916.08 L499.03,916.08 L499.57,916.08 L500.11,916.08 L500.64,915.48 L501.14,913.35 L501.64,911.19 L502.14,908.99 L502.64,906.74 L503.14,904.45 L503.63,902.12 L504.13,899.73 L504.62,897.28 L505.11,894.78 L505.60,892.21 L506.09,889.56 L506.57,886.84 L507.06,884.02 L507.54,881.11 L508.02,878.08 L508.49,874.93 L508.96,871.62 L509.43,868.15 L509.90,864.60" stroke="#0a0a0a" stroke-width="2.0" fill="none" stroke-linejoin="round" stroke-linecap="round" />
<path d="M500.94,584.80 L508.34,584.80 L516.54,569.40 Q517.74,566.70 520.34,566.70 Q522.94,566.70 524.14,569.40 L533.34,584.80" stroke="#0a0a0a" stroke-width="2.2" fill="none" stroke-linejoin="round" stroke-linecap="round" />
<path d="M500.94,584.80 L501.41,585.81 L501.88,588.84 L502.34,593.86 L502.81,600.82 L503.28,609.66 L503.75,620.30 L504.22,632.65 L504.68,646.60 L505.15,662.01 L505.62,678.76 L506.09,696.68 L506.56,715.63 L507.02,735.43 L507.49,755.90" stroke="#0a0a0a" stroke-width="2.0" fill="none" stroke-linejoin="round" stroke-linecap="round" />
<path d="M508.34,584.80 L508.81,585.81 L509.28,588.84 L509.74,593.86 L510.21,600.82 L510.68,609.66 L511.15,620.30 L511.62,632.65 L512.08,646.60 L512.55,662.01 L513.02,678.76 L513.49,696.68 L513.96,715.63 L514.42,735.43 L514.89,755.90" stroke="#0a0a0a" stroke-width="2.0" fill="none" stroke-linejoin="round" stroke-linecap="round" />
<path d="M533.34,584.80 L533.81,585.81 L534.28,588.84 L534.74,593.86 L535.21,600.82 L535.68,609.66 L536.15,620.30 L536.62,632.65 L537.08,646.60 L537.55,662.01 L538.02,678.76 L538.49,696.68 L538.96,715.63 L539.42,735.43 L539.89,755.90" stroke="#0a0a0a" stroke-width="2.0" fill="none" stroke-linejoin="round" stroke-linecap="round" />
<path d="M517.89,567.50 L518.26,569.14 L518.64,572.19 L519.02,576.62 L519.40,582.42 L519.77,589.55 L520.15,597.97 L520.53,607.64 L520.91,618.48 L521.28,630.44 L521.66,643.46 L522.04,657.45 L522.42,672.33 L522.79,688.02 L523.17,704.42 L528.57,704.42 L528.19,688.02 L527.82,672.33 L527.44,657.45 L527.06,643.46 L526.68,630.44 L526.31,618.48 L525.93,607.64 L525.55,597.97 L525.17,589.55 L524.80,582.42 L524.42,576.62 L524.04,572.19 L523.66,569.14 L523.29,567.50 Z" stroke="#0a0a0a" stroke-width="1.9" fill="#161616" stroke-linejoin="round" stroke-linecap="round" />
<path d="M520.98,568.18 L521.34,570.39 L521.70,573.84 L522.05,578.53 L522.41,584.42 L522.77,591.48 L523.12,599.69 L523.48,608.99 L523.83,619.34 L524.19,630.68 L524.55,642.96 L524.90,656.10 L525.26,670.05 L525.62,684.73 L525.97,700.07" stroke="#b0b0b0" stroke-width="1.2" fill="none" stroke-linejoin="round" stroke-linecap="round" stroke-dasharray="3.4 2.0" stroke-linecap="butt"/>
<path d="M516.45,1035.70 L523.85,1035.70 L532.05,1051.10 Q533.25,1053.80 535.85,1053.80 Q538.45,1053.80 539.65,1051.10 L548.85,1035.70" stroke="#0a0a0a" stroke-width="2.2" fill="none" stroke-linejoin="round" stroke-linecap="round" />
<path d="M509.90,864.60 L510.37,885.07 L510.83,904.87 L511.30,923.82 L511.77,941.74 L512.24,958.49 L512.71,973.90 L513.17,987.85 L513.64,1000.20 L514.11,1010.84 L514.58,1019.68 L515.05,1026.64 L515.51,1031.66 L515.98,1034.69 L516.45,1035.70" stroke="#0a0a0a" stroke-width="2.0" fill="none" stroke-linejoin="round" stroke-linecap="round" />
<path d="M517.30,864.60 L517.77,885.07 L518.23,904.87 L518.70,923.82 L519.17,941.74 L519.64,958.49 L520.11,973.90 L520.57,987.85 L521.04,1000.20 L521.51,1010.84 L521.98,1019.68 L522.45,1026.64 L522.91,1031.66 L523.38,1034.69 L523.85,1035.70" stroke="#0a0a0a" stroke-width="2.0" fill="none" stroke-linejoin="round" stroke-linecap="round" />
<path d="M542.30,864.60 L542.77,885.07 L543.23,904.87 L543.70,923.82 L544.17,941.74 L544.64,958.49 L545.11,973.90 L545.57,987.85 L546.04,1000.20 L546.51,1010.84 L546.98,1019.68 L547.45,1026.64 L547.91,1031.66 L548.38,1034.69 L548.85,1035.70" stroke="#0a0a0a" stroke-width="2.0" fill="none" stroke-linejoin="round" stroke-linecap="round" />
<path d="M527.62,916.08 L528.00,932.48 L528.37,948.17 L528.75,963.05 L529.13,977.04 L529.51,990.06 L529.88,1002.02 L530.26,1012.86 L530.64,1022.53 L531.02,1030.95 L531.39,1038.08 L531.77,1043.88 L532.15,1048.31 L532.53,1051.36 L532.90,1053.00 L538.30,1053.00 L537.93,1051.36 L537.55,1048.31 L537.17,1043.88 L536.79,1038.08 L536.42,1030.95 L536.04,1022.53 L535.66,1012.86 L535.28,1002.02 L534.91,990.06 L534.53,977.04 L534.15,963.05 L533.77,948.17 L533.40,932.48 L533.02,916.08 Z" stroke="#0a0a0a" stroke-width="1.9" fill="#161616" stroke-linejoin="round" stroke-linecap="round" />
<path d="M530.72,924.74 L531.07,939.90 L531.43,954.39 L531.79,968.12 L532.14,981.04 L532.50,993.06 L532.85,1004.13 L533.21,1014.20 L533.57,1023.20 L533.92,1031.09 L534.28,1037.83 L534.64,1043.39 L534.99,1047.74 L535.35,1050.85 L535.70,1052.70" stroke="#b0b0b0" stroke-width="1.2" fill="none" stroke-linejoin="round" stroke-linecap="round" stroke-dasharray="3.4 2.0" stroke-linecap="butt"/>
<path d="M507.49,755.90 L508.03,755.90 L508.57,755.90 L509.11,755.90 L509.65,755.90 L510.19,755.90 L510.73,755.90 L511.28,755.90 L511.82,755.90 L512.36,755.90 L512.90,755.90 L513.44,755.90 L513.98,755.90 L514.52,755.90 L515.03,754.63 L515.49,750.66 L515.95,746.92 L516.42,743.37 L516.89,739.99 L517.36,736.75 L517.84,733.63 L518.32,730.62 L518.80,727.71 L519.29,724.88 L519.77,722.14 L520.26,719.46 L520.75,716.86 L521.24,714.31 L521.74,711.82 L522.23,709.38 L522.73,706.98 L523.23,704.63 L523.76,704.42 L524.30,704.42 L524.84,704.42 L525.38,704.42 L525.92,704.42 L526.46,704.42 L527.00,704.42 L527.54,704.42 L528.08,704.42 L528.64,705.02 L529.21,707.15 L529.80,709.31 L530.38,711.51 L530.96,713.76 L531.54,716.05 L532.13,718.38 L532.71,720.77 L533.30,723.22 L533.89,725.72 L534.48,728.29 L535.08,730.94 L535.67,733.66 L536.27,736.48 L536.87,739.39 L537.47,742.42 L538.08,745.57 L538.68,748.88 L539.30,752.35 L539.91,755.90" stroke="#0a0a0a" stroke-width="2.0" fill="none" stroke-linejoin="round" stroke-linecap="round" />
<path d="M509.90,864.60 L510.44,864.60 L510.98,864.60 L511.52,864.60 L512.06,864.60 L512.60,864.60 L513.14,864.60 L513.68,864.60 L514.22,864.60 L514.76,864.60 L515.30,864.60 L515.84,864.60 L516.38,864.60 L516.92,864.60 L517.49,865.87 L518.11,869.84 L518.73,873.58 L519.35,877.13 L519.96,880.51 L520.56,883.75 L521.16,886.87 L521.77,889.88 L522.36,892.79 L522.96,895.62 L523.55,898.36 L524.15,901.04 L524.74,903.64 L525.32,906.19 L525.91,908.68 L526.50,911.12 L527.08,913.52 L527.67,915.87 L528.21,916.08 L528.75,916.08 L529.29,916.08 L529.83,916.08 L530.37,916.08 L530.91,916.08 L531.45,916.08 L531.99,916.08 L532.53,916.08 L533.06,915.48 L533.56,913.35 L534.06,911.19 L534.56,908.99 L535.06,906.74 L535.56,904.45 L536.05,902.12 L536.55,899.73 L537.04,897.28 L537.53,894.78 L538.02,892.21 L538.51,889.56 L538.99,886.84 L539.48,884.02 L539.96,881.11 L540.44,878.08 L540.91,874.93 L541.38,871.62 L541.85,868.15 L542.32,864.60" stroke="#0a0a0a" stroke-width="2.0" fill="none" stroke-linejoin="round" stroke-linecap="round" />
</g>
<clipPath id="thrB"><rect x="513" y="540" width="15" height="540"/></clipPath>
<g clip-path="url(#thrB)">
<path d="M468.52,584.80 L475.92,584.80 L484.12,569.40 Q485.32,566.70 487.92,566.70 Q490.52,566.70 491.72,569.40 L500.92,584.80" stroke="#0a0a0a" stroke-width="2.2" fill="none" stroke-linejoin="round" stroke-linecap="round" />
<path d="M468.52,584.80 L468.99,585.81 L469.46,588.84 L469.92,593.86 L470.39,600.82 L470.86,609.66 L471.33,620.30 L471.80,632.65 L472.26,646.60 L472.73,662.01 L473.20,678.76 L473.67,696.68 L474.14,715.63 L474.60,735.43 L475.07,755.90" stroke="#0a0a0a" stroke-width="2.0" fill="none" stroke-linejoin="round" stroke-linecap="round" />
<path d="M475.92,584.80 L476.39,585.81 L476.86,588.84 L477.32,593.86 L477.79,600.82 L478.26,609.66 L478.73,620.30 L479.20,632.65 L479.66,646.60 L480.13,662.01 L480.60,678.76 L481.07,696.68 L481.54,715.63 L482.00,735.43 L482.47,755.90" stroke="#0a0a0a" stroke-width="2.0" fill="none" stroke-linejoin="round" stroke-linecap="round" />
<path d="M500.92,584.80 L501.39,585.81 L501.86,588.84 L502.32,593.86 L502.79,600.82 L503.26,609.66 L503.73,620.30 L504.20,632.65 L504.66,646.60 L505.13,662.01 L505.60,678.76 L506.07,696.68 L506.54,715.63 L507.00,735.43 L507.47,755.90" stroke="#0a0a0a" stroke-width="2.0" fill="none" stroke-linejoin="round" stroke-linecap="round" />
<path d="M485.47,567.50 L485.84,569.14 L486.22,572.19 L486.60,576.62 L486.98,582.42 L487.35,589.55 L487.73,597.97 L488.11,607.64 L488.49,618.48 L488.86,630.44 L489.24,643.46 L489.62,657.45 L490.00,672.33 L490.37,688.02 L490.75,704.42 L496.15,704.42 L495.77,688.02 L495.40,672.33 L495.02,657.45 L494.64,643.46 L494.26,630.44 L493.89,618.48 L493.51,607.64 L493.13,597.97 L492.75,589.55 L492.38,582.42 L492.00,576.62 L491.62,572.19 L491.24,569.14 L490.87,567.50 Z" stroke="#0a0a0a" stroke-width="1.9" fill="#161616" stroke-linejoin="round" stroke-linecap="round" />
<path d="M488.56,568.18 L488.92,570.39 L489.28,573.84 L489.63,578.53 L489.99,584.42 L490.35,591.48 L490.70,599.69 L491.06,608.99 L491.41,619.34 L491.77,630.68 L492.13,642.96 L492.48,656.10 L492.84,670.05 L493.20,684.73 L493.55,700.07" stroke="#b0b0b0" stroke-width="1.2" fill="none" stroke-linejoin="round" stroke-linecap="round" stroke-dasharray="3.4 2.0" stroke-linecap="butt"/>
<path d="M484.03,1035.70 L491.43,1035.70 L499.63,1051.10 Q500.83,1053.80 503.43,1053.80 Q506.03,1053.80 507.23,1051.10 L516.43,1035.70" stroke="#0a0a0a" stroke-width="2.2" fill="none" stroke-linejoin="round" stroke-linecap="round" />
<path d="M477.48,864.60 L477.95,885.07 L478.41,904.87 L478.88,923.82 L479.35,941.74 L479.82,958.49 L480.29,973.90 L480.75,987.85 L481.22,1000.20 L481.69,1010.84 L482.16,1019.68 L482.63,1026.64 L483.09,1031.66 L483.56,1034.69 L484.03,1035.70" stroke="#0a0a0a" stroke-width="2.0" fill="none" stroke-linejoin="round" stroke-linecap="round" />
<path d="M484.88,864.60 L485.35,885.07 L485.81,904.87 L486.28,923.82 L486.75,941.74 L487.22,958.49 L487.69,973.90 L488.15,987.85 L488.62,1000.20 L489.09,1010.84 L489.56,1019.68 L490.03,1026.64 L490.49,1031.66 L490.96,1034.69 L491.43,1035.70" stroke="#0a0a0a" stroke-width="2.0" fill="none" stroke-linejoin="round" stroke-linecap="round" />
<path d="M509.88,864.60 L510.35,885.07 L510.81,904.87 L511.28,923.82 L511.75,941.74 L512.22,958.49 L512.69,973.90 L513.15,987.85 L513.62,1000.20 L514.09,1010.84 L514.56,1019.68 L515.03,1026.64 L515.49,1031.66 L515.96,1034.69 L516.43,1035.70" stroke="#0a0a0a" stroke-width="2.0" fill="none" stroke-linejoin="round" stroke-linecap="round" />
<path d="M495.20,916.08 L495.58,932.48 L495.95,948.17 L496.33,963.05 L496.71,977.04 L497.09,990.06 L497.46,1002.02 L497.84,1012.86 L498.22,1022.53 L498.60,1030.95 L498.97,1038.08 L499.35,1043.88 L499.73,1048.31 L500.11,1051.36 L500.48,1053.00 L505.88,1053.00 L505.51,1051.36 L505.13,1048.31 L504.75,1043.88 L504.37,1038.08 L504.00,1030.95 L503.62,1022.53 L503.24,1012.86 L502.86,1002.02 L502.49,990.06 L502.11,977.04 L501.73,963.05 L501.35,948.17 L500.98,932.48 L500.60,916.08 Z" stroke="#0a0a0a" stroke-width="1.9" fill="#161616" stroke-linejoin="round" stroke-linecap="round" />
<path d="M498.30,924.74 L498.65,939.90 L499.01,954.39 L499.37,968.12 L499.72,981.04 L500.08,993.06 L500.43,1004.13 L500.79,1014.20 L501.15,1023.20 L501.50,1031.09 L501.86,1037.83 L502.22,1043.39 L502.57,1047.74 L502.93,1050.85 L503.28,1052.70" stroke="#b0b0b0" stroke-width="1.2" fill="none" stroke-linejoin="round" stroke-linecap="round" stroke-dasharray="3.4 2.0" stroke-linecap="butt"/>
<path d="M475.07,755.90 L475.61,755.90 L476.15,755.90 L476.69,755.90 L477.23,755.90 L477.77,755.90 L478.31,755.90 L478.86,755.90 L479.40,755.90 L479.94,755.90 L480.48,755.90 L481.02,755.90 L481.56,755.90 L482.10,755.90 L482.61,754.63 L483.07,750.66 L483.53,746.92 L484.00,743.37 L484.47,739.99 L484.94,736.75 L485.42,733.63 L485.90,730.62 L486.38,727.71 L486.87,724.88 L487.35,722.14 L487.84,719.46 L488.33,716.86 L488.82,714.31 L489.32,711.82 L489.81,709.38 L490.31,706.98 L490.81,704.63 L491.34,704.42 L491.88,704.42 L492.42,704.42 L492.96,704.42 L493.50,704.42 L494.04,704.42 L494.58,704.42 L495.12,704.42 L495.66,704.42 L496.22,705.02 L496.79,707.15 L497.38,709.31 L497.96,711.51 L498.54,713.76 L499.12,716.05 L499.71,718.38 L500.29,720.77 L500.88,723.22 L501.47,725.72 L502.06,728.29 L502.66,730.94 L503.25,733.66 L503.85,736.48 L504.45,739.39 L505.05,742.42 L505.66,745.57 L506.26,748.88 L506.88,752.35 L507.49,755.90" stroke="#0a0a0a" stroke-width="2.0" fill="none" stroke-linejoin="round" stroke-linecap="round" />
<path d="M477.48,864.60 L478.02,864.60 L478.56,864.60 L479.10,864.60 L479.64,864.60 L480.18,864.60 L480.72,864.60 L481.26,864.60 L481.80,864.60 L482.34,864.60 L482.88,864.60 L483.42,864.60 L483.96,864.60 L484.50,864.60 L485.07,865.87 L485.69,869.84 L486.31,873.58 L486.93,877.13 L487.54,880.51 L488.14,883.75 L488.74,886.87 L489.35,889.88 L489.94,892.79 L490.54,895.62 L491.13,898.36 L491.73,901.04 L492.32,903.64 L492.90,906.19 L493.49,908.68 L494.08,911.12 L494.66,913.52 L495.25,915.87 L495.79,916.08 L496.33,916.08 L496.87,916.08 L497.41,916.08 L497.95,916.08 L498.49,916.08 L499.03,916.08 L499.57,916.08 L500.11,916.08 L500.64,915.48 L501.14,913.35 L501.64,911.19 L502.14,908.99 L502.64,906.74 L503.14,904.45 L503.63,902.12 L504.13,899.73 L504.62,897.28 L505.11,894.78 L505.60,892.21 L506.09,889.56 L506.57,886.84 L507.06,884.02 L507.54,881.11 L508.02,878.08 L508.49,874.93 L508.96,871.62 L509.43,868.15 L509.90,864.60" stroke="#0a0a0a" stroke-width="2.0" fill="none" stroke-linejoin="round" stroke-linecap="round" />
<path d="M500.94,584.80 L508.34,584.80 L516.54,569.40 Q517.74,566.70 520.34,566.70 Q522.94,566.70 524.14,569.40 L533.34,584.80" stroke="#0a0a0a" stroke-width="2.2" fill="none" stroke-linejoin="round" stroke-linecap="round" />
<path d="M500.94,584.80 L501.41,585.81 L501.88,588.84 L502.34,593.86 L502.81,600.82 L503.28,609.66 L503.75,620.30 L504.22,632.65 L504.68,646.60 L505.15,662.01 L505.62,678.76 L506.09,696.68 L506.56,715.63 L507.02,735.43 L507.49,755.90" stroke="#0a0a0a" stroke-width="2.0" fill="none" stroke-linejoin="round" stroke-linecap="round" />
<path d="M508.34,584.80 L508.81,585.81 L509.28,588.84 L509.74,593.86 L510.21,600.82 L510.68,609.66 L511.15,620.30 L511.62,632.65 L512.08,646.60 L512.55,662.01 L513.02,678.76 L513.49,696.68 L513.96,715.63 L514.42,735.43 L514.89,755.90" stroke="#0a0a0a" stroke-width="2.0" fill="none" stroke-linejoin="round" stroke-linecap="round" />
<path d="M533.34,584.80 L533.81,585.81 L534.28,588.84 L534.74,593.86 L535.21,600.82 L535.68,609.66 L536.15,620.30 L536.62,632.65 L537.08,646.60 L537.55,662.01 L538.02,678.76 L538.49,696.68 L538.96,715.63 L539.42,735.43 L539.89,755.90" stroke="#0a0a0a" stroke-width="2.0" fill="none" stroke-linejoin="round" stroke-linecap="round" />
<path d="M517.89,567.50 L518.26,569.14 L518.64,572.19 L519.02,576.62 L519.40,582.42 L519.77,589.55 L520.15,597.97 L520.53,607.64 L520.91,618.48 L521.28,630.44 L521.66,643.46 L522.04,657.45 L522.42,672.33 L522.79,688.02 L523.17,704.42 L528.57,704.42 L528.19,688.02 L527.82,672.33 L527.44,657.45 L527.06,643.46 L526.68,630.44 L526.31,618.48 L525.93,607.64 L525.55,597.97 L525.17,589.55 L524.80,582.42 L524.42,576.62 L524.04,572.19 L523.66,569.14 L523.29,567.50 Z" stroke="#0a0a0a" stroke-width="1.9" fill="#161616" stroke-linejoin="round" stroke-linecap="round" />
<path d="M520.98,568.18 L521.34,570.39 L521.70,573.84 L522.05,578.53 L522.41,584.42 L522.77,591.48 L523.12,599.69 L523.48,608.99 L523.83,619.34 L524.19,630.68 L524.55,642.96 L524.90,656.10 L525.26,670.05 L525.62,684.73 L525.97,700.07" stroke="#b0b0b0" stroke-width="1.2" fill="none" stroke-linejoin="round" stroke-linecap="round" stroke-dasharray="3.4 2.0" stroke-linecap="butt"/>
<path d="M516.45,1035.70 L523.85,1035.70 L532.05,1051.10 Q533.25,1053.80 535.85,1053.80 Q538.45,1053.80 539.65,1051.10 L548.85,1035.70" stroke="#0a0a0a" stroke-width="2.2" fill="none" stroke-linejoin="round" stroke-linecap="round" />
<path d="M509.90,864.60 L510.37,885.07 L510.83,904.87 L511.30,923.82 L511.77,941.74 L512.24,958.49 L512.71,973.90 L513.17,987.85 L513.64,1000.20 L514.11,1010.84 L514.58,1019.68 L515.05,1026.64 L515.51,1031.66 L515.98,1034.69 L516.45,1035.70" stroke="#0a0a0a" stroke-width="2.0" fill="none" stroke-linejoin="round" stroke-linecap="round" />
<path d="M517.30,864.60 L517.77,885.07 L518.23,904.87 L518.70,923.82 L519.17,941.74 L519.64,958.49 L520.11,973.90 L520.57,987.85 L521.04,1000.20 L521.51,1010.84 L521.98,1019.68 L522.45,1026.64 L522.91,1031.66 L523.38,1034.69 L523.85,1035.70" stroke="#0a0a0a" stroke-width="2.0" fill="none" stroke-linejoin="round" stroke-linecap="round" />
<path d="M542.30,864.60 L542.77,885.07 L543.23,904.87 L543.70,923.82 L544.17,941.74 L544.64,958.49 L545.11,973.90 L545.57,987.85 L546.04,1000.20 L546.51,1010.84 L546.98,1019.68 L547.45,1026.64 L547.91,1031.66 L548.38,1034.69 L548.85,1035.70" stroke="#0a0a0a" stroke-width="2.0" fill="none" stroke-linejoin="round" stroke-linecap="round" />
<path d="M527.62,916.08 L528.00,932.48 L528.37,948.17 L528.75,963.05 L529.13,977.04 L529.51,990.06 L529.88,1002.02 L530.26,1012.86 L530.64,1022.53 L531.02,1030.95 L531.39,1038.08 L531.77,1043.88 L532.15,1048.31 L532.53,1051.36 L532.90,1053.00 L538.30,1053.00 L537.93,1051.36 L537.55,1048.31 L537.17,1043.88 L536.79,1038.08 L536.42,1030.95 L536.04,1022.53 L535.66,1012.86 L535.28,1002.02 L534.91,990.06 L534.53,977.04 L534.15,963.05 L533.77,948.17 L533.40,932.48 L533.02,916.08 Z" stroke="#0a0a0a" stroke-width="1.9" fill="#161616" stroke-linejoin="round" stroke-linecap="round" />
<path d="M530.72,924.74 L531.07,939.90 L531.43,954.39 L531.79,968.12 L532.14,981.04 L532.50,993.06 L532.85,1004.13 L533.21,1014.20 L533.57,1023.20 L533.92,1031.09 L534.28,1037.83 L534.64,1043.39 L534.99,1047.74 L535.35,1050.85 L535.70,1052.70" stroke="#b0b0b0" stroke-width="1.2" fill="none" stroke-linejoin="round" stroke-linecap="round" stroke-dasharray="3.4 2.0" stroke-linecap="butt"/>
<path d="M507.49,755.90 L508.03,755.90 L508.57,755.90 L509.11,755.90 L509.65,755.90 L510.19,755.90 L510.73,755.90 L511.28,755.90 L511.82,755.90 L512.36,755.90 L512.90,755.90 L513.44,755.90 L513.98,755.90 L514.52,755.90 L515.03,754.63 L515.49,750.66 L515.95,746.92 L516.42,743.37 L516.89,739.99 L517.36,736.75 L517.84,733.63 L518.32,730.62 L518.80,727.71 L519.29,724.88 L519.77,722.14 L520.26,719.46 L520.75,716.86 L521.24,714.31 L521.74,711.82 L522.23,709.38 L522.73,706.98 L523.23,704.63 L523.76,704.42 L524.30,704.42 L524.84,704.42 L525.38,704.42 L525.92,704.42 L526.46,704.42 L527.00,704.42 L527.54,704.42 L528.08,704.42 L528.64,705.02 L529.21,707.15 L529.80,709.31 L530.38,711.51 L530.96,713.76 L531.54,716.05 L532.13,718.38 L532.71,720.77 L533.30,723.22 L533.89,725.72 L534.48,728.29 L535.08,730.94 L535.67,733.66 L536.27,736.48 L536.87,739.39 L537.47,742.42 L538.08,745.57 L538.68,748.88 L539.30,752.35 L539.91,755.90" stroke="#0a0a0a" stroke-width="2.0" fill="none" stroke-linejoin="round" stroke-linecap="round" />
<path d="M509.90,864.60 L510.44,864.60 L510.98,864.60 L511.52,864.60 L512.06,864.60 L512.60,864.60 L513.14,864.60 L513.68,864.60 L514.22,864.60 L514.76,864.60 L515.30,864.60 L515.84,864.60 L516.38,864.60 L516.92,864.60 L517.49,865.87 L518.11,869.84 L518.73,873.58 L519.35,877.13 L519.96,880.51 L520.56,883.75 L521.16,886.87 L521.77,889.88 L522.36,892.79 L522.96,895.62 L523.55,898.36 L524.15,901.04 L524.74,903.64 L525.32,906.19 L525.91,908.68 L526.50,911.12 L527.08,913.52 L527.67,915.87 L528.21,916.08 L528.75,916.08 L529.29,916.08 L529.83,916.08 L530.37,916.08 L530.91,916.08 L531.45,916.08 L531.99,916.08 L532.53,916.08 L533.06,915.48 L533.56,913.35 L534.06,911.19 L534.56,908.99 L535.06,906.74 L535.56,904.45 L536.05,902.12 L536.55,899.73 L537.04,897.28 L537.53,894.78 L538.02,892.21 L538.51,889.56 L538.99,886.84 L539.48,884.02 L539.96,881.11 L540.44,878.08 L540.91,874.93 L541.38,871.62 L541.85,868.15 L542.32,864.60" stroke="#0a0a0a" stroke-width="2.0" fill="none" stroke-linejoin="round" stroke-linecap="round" />
<path d="M533.36,584.80 L540.76,584.80 L548.96,569.40 Q550.16,566.70 552.76,566.70 Q555.36,566.70 556.56,569.40 L565.76,584.80" stroke="#0a0a0a" stroke-width="2.2" fill="none" stroke-linejoin="round" stroke-linecap="round" />
<path d="M533.36,584.80 L533.83,585.81 L534.30,588.84 L534.76,593.86 L535.23,600.82 L535.70,609.66 L536.17,620.30 L536.64,632.65 L537.10,646.60 L537.57,662.01 L538.04,678.76 L538.51,696.68 L538.98,715.63 L539.44,735.43 L539.91,755.90" stroke="#0a0a0a" stroke-width="2.0" fill="none" stroke-linejoin="round" stroke-linecap="round" />
<path d="M540.76,584.80 L541.23,585.81 L541.70,588.84 L542.16,593.86 L542.63,600.82 L543.10,609.66 L543.57,620.30 L544.04,632.65 L544.50,646.60 L544.97,662.01 L545.44,678.76 L545.91,696.68 L546.38,715.63 L546.84,735.43 L547.31,755.90" stroke="#0a0a0a" stroke-width="2.0" fill="none" stroke-linejoin="round" stroke-linecap="round" />
<path d="M565.76,584.80 L566.23,585.81 L566.70,588.84 L567.16,593.86 L567.63,600.82 L568.10,609.66 L568.57,620.30 L569.04,632.65 L569.50,646.60 L569.97,662.01 L570.44,678.76 L570.91,696.68 L571.38,715.63 L571.84,735.43 L572.31,755.90" stroke="#0a0a0a" stroke-width="2.0" fill="none" stroke-linejoin="round" stroke-linecap="round" />
<path d="M550.31,567.50 L550.68,569.14 L551.06,572.19 L551.44,576.62 L551.82,582.42 L552.19,589.55 L552.57,597.97 L552.95,607.64 L553.33,618.48 L553.70,630.44 L554.08,643.46 L554.46,657.45 L554.84,672.33 L555.21,688.02 L555.59,704.42 L560.99,704.42 L560.61,688.02 L560.24,672.33 L559.86,657.45 L559.48,643.46 L559.10,630.44 L558.73,618.48 L558.35,607.64 L557.97,597.97 L557.59,589.55 L557.22,582.42 L556.84,576.62 L556.46,572.19 L556.08,569.14 L555.71,567.50 Z" stroke="#0a0a0a" stroke-width="1.9" fill="#161616" stroke-linejoin="round" stroke-linecap="round" />
<path d="M553.40,568.18 L553.76,570.39 L554.12,573.84 L554.47,578.53 L554.83,584.42 L555.19,591.48 L555.54,599.69 L555.90,608.99 L556.25,619.34 L556.61,630.68 L556.97,642.96 L557.32,656.10 L557.68,670.05 L558.04,684.73 L558.39,700.07" stroke="#b0b0b0" stroke-width="1.2" fill="none" stroke-linejoin="round" stroke-linecap="round" stroke-dasharray="3.4 2.0" stroke-linecap="butt"/>
<path d="M548.87,1035.70 L556.27,1035.70 L564.47,1051.10 Q565.67,1053.80 568.27,1053.80 Q570.87,1053.80 572.07,1051.10 L581.27,1035.70" stroke="#0a0a0a" stroke-width="2.2" fill="none" stroke-linejoin="round" stroke-linecap="round" />
<path d="M542.32,864.60 L542.79,885.07 L543.25,904.87 L543.72,923.82 L544.19,941.74 L544.66,958.49 L545.13,973.90 L545.59,987.85 L546.06,1000.20 L546.53,1010.84 L547.00,1019.68 L547.47,1026.64 L547.93,1031.66 L548.40,1034.69 L548.87,1035.70" stroke="#0a0a0a" stroke-width="2.0" fill="none" stroke-linejoin="round" stroke-linecap="round" />
<path d="M549.72,864.60 L550.19,885.07 L550.65,904.87 L551.12,923.82 L551.59,941.74 L552.06,958.49 L552.53,973.90 L552.99,987.85 L553.46,1000.20 L553.93,1010.84 L554.40,1019.68 L554.87,1026.64 L555.33,1031.66 L555.80,1034.69 L556.27,1035.70" stroke="#0a0a0a" stroke-width="2.0" fill="none" stroke-linejoin="round" stroke-linecap="round" />
<path d="M574.72,864.60 L575.19,885.07 L575.65,904.87 L576.12,923.82 L576.59,941.74 L577.06,958.49 L577.53,973.90 L577.99,987.85 L578.46,1000.20 L578.93,1010.84 L579.40,1019.68 L579.87,1026.64 L580.33,1031.66 L580.80,1034.69 L581.27,1035.70" stroke="#0a0a0a" stroke-width="2.0" fill="none" stroke-linejoin="round" stroke-linecap="round" />
<path d="M560.04,916.08 L560.42,932.48 L560.79,948.17 L561.17,963.05 L561.55,977.04 L561.93,990.06 L562.30,1002.02 L562.68,1012.86 L563.06,1022.53 L563.44,1030.95 L563.81,1038.08 L564.19,1043.88 L564.57,1048.31 L564.95,1051.36 L565.32,1053.00 L570.72,1053.00 L570.35,1051.36 L569.97,1048.31 L569.59,1043.88 L569.21,1038.08 L568.84,1030.95 L568.46,1022.53 L568.08,1012.86 L567.70,1002.02 L567.33,990.06 L566.95,977.04 L566.57,963.05 L566.19,948.17 L565.82,932.48 L565.44,916.08 Z" stroke="#0a0a0a" stroke-width="1.9" fill="#161616" stroke-linejoin="round" stroke-linecap="round" />
<path d="M563.14,924.74 L563.49,939.90 L563.85,954.39 L564.21,968.12 L564.56,981.04 L564.92,993.06 L565.27,1004.13 L565.63,1014.20 L565.99,1023.20 L566.34,1031.09 L566.70,1037.83 L567.06,1043.39 L567.41,1047.74 L567.77,1050.85 L568.12,1052.70" stroke="#b0b0b0" stroke-width="1.2" fill="none" stroke-linejoin="round" stroke-linecap="round" stroke-dasharray="3.4 2.0" stroke-linecap="butt"/>
<path d="M539.91,755.90 L540.45,755.90 L540.99,755.90 L541.53,755.90 L542.07,755.90 L542.61,755.90 L543.15,755.90 L543.70,755.90 L544.24,755.90 L544.78,755.90 L545.32,755.90 L545.86,755.90 L546.40,755.90 L546.94,755.90 L547.45,754.63 L547.91,750.66 L548.37,746.92 L548.84,743.37 L549.31,739.99 L549.78,736.75 L550.26,733.63 L550.74,730.62 L551.22,727.71 L551.71,724.88 L552.19,722.14 L552.68,719.46 L553.17,716.86 L553.66,714.31 L554.16,711.82 L554.65,709.38 L555.15,706.98 L555.65,704.63 L556.18,704.42 L556.72,704.42 L557.26,704.42 L557.80,704.42 L558.34,704.42 L558.88,704.42 L559.42,704.42 L559.96,704.42 L560.50,704.42 L561.06,705.02 L561.63,707.15 L562.22,709.31 L562.80,711.51 L563.38,713.76 L563.96,716.05 L564.55,718.38 L565.13,720.77 L565.72,723.22 L566.31,725.72 L566.90,728.29 L567.50,730.94 L568.09,733.66 L568.69,736.48 L569.29,739.39 L569.89,742.42 L570.50,745.57 L571.10,748.88 L571.72,752.35 L572.33,755.90" stroke="#0a0a0a" stroke-width="2.0" fill="none" stroke-linejoin="round" stroke-linecap="round" />
<path d="M542.32,864.60 L542.86,864.60 L543.40,864.60 L543.94,864.60 L544.48,864.60 L545.02,864.60 L545.56,864.60 L546.10,864.60 L546.64,864.60 L547.18,864.60 L547.72,864.60 L548.26,864.60 L548.80,864.60 L549.34,864.60 L549.91,865.87 L550.53,869.84 L551.15,873.58 L551.77,877.13 L552.38,880.51 L552.98,883.75 L553.58,886.87 L554.19,889.88 L554.78,892.79 L555.38,895.62 L555.97,898.36 L556.57,901.04 L557.16,903.64 L557.74,906.19 L558.33,908.68 L558.92,911.12 L559.50,913.52 L560.09,915.87 L560.63,916.08 L561.17,916.08 L561.71,916.08 L562.25,916.08 L562.79,916.08 L563.33,916.08 L563.87,916.08 L564.41,916.08 L564.95,916.08 L565.48,915.48 L565.98,913.35 L566.48,911.19 L566.98,908.99 L567.48,906.74 L567.98,904.45 L568.47,902.12 L568.97,899.73 L569.46,897.28 L569.95,894.78 L570.44,892.21 L570.93,889.56 L571.41,886.84 L571.90,884.02 L572.38,881.11 L572.86,878.08 L573.33,874.93 L573.80,871.62 L574.27,868.15 L574.74,864.60" stroke="#0a0a0a" stroke-width="2.0" fill="none" stroke-linejoin="round" stroke-linecap="round" />
</g>
<clipPath id="thrC"><rect x="609.2" y="540" width="60" height="540"/></clipPath>
<g clip-path="url(#thrC)">
<path d="M565.78,584.80 L573.18,584.80 L581.38,569.40 Q582.58,566.70 585.18,566.70 Q587.78,566.70 588.98,569.40 L598.18,584.80" stroke="#0a0a0a" stroke-width="2.2" fill="none" stroke-linejoin="round" stroke-linecap="round" />
<path d="M565.78,584.80 L566.25,585.81 L566.72,588.84 L567.18,593.86 L567.65,600.82 L568.12,609.66 L568.59,620.30 L569.06,632.65 L569.52,646.60 L569.99,662.01 L570.46,678.76 L570.93,696.68 L571.40,715.63 L571.86,735.43 L572.33,755.90" stroke="#0a0a0a" stroke-width="2.0" fill="none" stroke-linejoin="round" stroke-linecap="round" />
<path d="M573.18,584.80 L573.65,585.81 L574.12,588.84 L574.58,593.86 L575.05,600.82 L575.52,609.66 L575.99,620.30 L576.46,632.65 L576.92,646.60 L577.39,662.01 L577.86,678.76 L578.33,696.68 L578.80,715.63 L579.26,735.43 L579.73,755.90" stroke="#0a0a0a" stroke-width="2.0" fill="none" stroke-linejoin="round" stroke-linecap="round" />
<path d="M598.18,584.80 L598.65,585.81 L599.12,588.84 L599.58,593.86 L600.05,600.82 L600.52,609.66 L600.99,620.30 L601.46,632.65 L601.92,646.60 L602.39,662.01 L602.86,678.76 L603.33,696.68 L603.80,715.63 L604.26,735.43 L604.73,755.90" stroke="#0a0a0a" stroke-width="2.0" fill="none" stroke-linejoin="round" stroke-linecap="round" />
<path d="M582.73,567.50 L583.10,569.14 L583.48,572.19 L583.86,576.62 L584.24,582.42 L584.61,589.55 L584.99,597.97 L585.37,607.64 L585.75,618.48 L586.12,630.44 L586.50,643.46 L586.88,657.45 L587.26,672.33 L587.63,688.02 L588.01,704.42 L593.41,704.42 L593.03,688.02 L592.66,672.33 L592.28,657.45 L591.90,643.46 L591.52,630.44 L591.15,618.48 L590.77,607.64 L590.39,597.97 L590.01,589.55 L589.64,582.42 L589.26,576.62 L588.88,572.19 L588.50,569.14 L588.13,567.50 Z" stroke="#0a0a0a" stroke-width="1.9" fill="#161616" stroke-linejoin="round" stroke-linecap="round" />
<path d="M585.82,568.18 L586.18,570.39 L586.54,573.84 L586.89,578.53 L587.25,584.42 L587.61,591.48 L587.96,599.69 L588.32,608.99 L588.67,619.34 L589.03,630.68 L589.39,642.96 L589.74,656.10 L590.10,670.05 L590.46,684.73 L590.81,700.07" stroke="#b0b0b0" stroke-width="1.2" fill="none" stroke-linejoin="round" stroke-linecap="round" stroke-dasharray="3.4 2.0" stroke-linecap="butt"/>
<path d="M581.29,1035.70 L588.69,1035.70 L596.89,1051.10 Q598.09,1053.80 600.69,1053.80 Q603.29,1053.80 604.49,1051.10 L613.69,1035.70" stroke="#0a0a0a" stroke-width="2.2" fill="none" stroke-linejoin="round" stroke-linecap="round" />
<path d="M574.74,864.60 L575.21,885.07 L575.67,904.87 L576.14,923.82 L576.61,941.74 L577.08,958.49 L577.55,973.90 L578.01,987.85 L578.48,1000.20 L578.95,1010.84 L579.42,1019.68 L579.89,1026.64 L580.35,1031.66 L580.82,1034.69 L581.29,1035.70" stroke="#0a0a0a" stroke-width="2.0" fill="none" stroke-linejoin="round" stroke-linecap="round" />
<path d="M582.14,864.60 L582.61,885.07 L583.07,904.87 L583.54,923.82 L584.01,941.74 L584.48,958.49 L584.95,973.90 L585.41,987.85 L585.88,1000.20 L586.35,1010.84 L586.82,1019.68 L587.29,1026.64 L587.75,1031.66 L588.22,1034.69 L588.69,1035.70" stroke="#0a0a0a" stroke-width="2.0" fill="none" stroke-linejoin="round" stroke-linecap="round" />
<path d="M607.14,864.60 L607.61,885.07 L608.07,904.87 L608.54,923.82 L609.01,941.74 L609.48,958.49 L609.95,973.90 L610.41,987.85 L610.88,1000.20 L611.35,1010.84 L611.82,1019.68 L612.29,1026.64 L612.75,1031.66 L613.22,1034.69 L613.69,1035.70" stroke="#0a0a0a" stroke-width="2.0" fill="none" stroke-linejoin="round" stroke-linecap="round" />
<path d="M592.46,916.08 L592.84,932.48 L593.21,948.17 L593.59,963.05 L593.97,977.04 L594.35,990.06 L594.72,1002.02 L595.10,1012.86 L595.48,1022.53 L595.86,1030.95 L596.23,1038.08 L596.61,1043.88 L596.99,1048.31 L597.37,1051.36 L597.74,1053.00 L603.14,1053.00 L602.77,1051.36 L602.39,1048.31 L602.01,1043.88 L601.63,1038.08 L601.26,1030.95 L600.88,1022.53 L600.50,1012.86 L600.12,1002.02 L599.75,990.06 L599.37,977.04 L598.99,963.05 L598.61,948.17 L598.24,932.48 L597.86,916.08 Z" stroke="#0a0a0a" stroke-width="1.9" fill="#161616" stroke-linejoin="round" stroke-linecap="round" />
<path d="M595.56,924.74 L595.91,939.90 L596.27,954.39 L596.63,968.12 L596.98,981.04 L597.34,993.06 L597.69,1004.13 L598.05,1014.20 L598.41,1023.20 L598.76,1031.09 L599.12,1037.83 L599.48,1043.39 L599.83,1047.74 L600.19,1050.85 L600.54,1052.70" stroke="#b0b0b0" stroke-width="1.2" fill="none" stroke-linejoin="round" stroke-linecap="round" stroke-dasharray="3.4 2.0" stroke-linecap="butt"/>
<path d="M572.33,755.90 L572.87,755.90 L573.41,755.90 L573.95,755.90 L574.49,755.90 L575.03,755.90 L575.57,755.90 L576.12,755.90 L576.66,755.90 L577.20,755.90 L577.74,755.90 L578.28,755.90 L578.82,755.90 L579.36,755.90 L579.87,754.63 L580.33,750.66 L580.79,746.92 L581.26,743.37 L581.73,739.99 L582.20,736.75 L582.68,733.63 L583.16,730.62 L583.64,727.71 L584.13,724.88 L584.61,722.14 L585.10,719.46 L585.59,716.86 L586.08,714.31 L586.58,711.82 L587.07,709.38 L587.57,706.98 L588.07,704.63 L588.60,704.42 L589.14,704.42 L589.68,704.42 L590.22,704.42 L590.76,704.42 L591.30,704.42 L591.84,704.42 L592.38,704.42 L592.92,704.42 L593.48,705.02 L594.05,707.15 L594.64,709.31 L595.22,711.51 L595.80,713.76 L596.38,716.05 L596.97,718.38 L597.55,720.77 L598.14,723.22 L598.73,725.72 L599.32,728.29 L599.92,730.94 L600.51,733.66 L601.11,736.48 L601.71,739.39 L602.31,742.42 L602.92,745.57 L603.52,748.88 L604.14,752.35 L604.75,755.90" stroke="#0a0a0a" stroke-width="2.0" fill="none" stroke-linejoin="round" stroke-linecap="round" />
<path d="M574.74,864.60 L575.28,864.60 L575.82,864.60 L576.36,864.60 L576.90,864.60 L577.44,864.60 L577.98,864.60 L578.52,864.60 L579.06,864.60 L579.60,864.60 L580.14,864.60 L580.68,864.60 L581.22,864.60 L581.76,864.60 L582.33,865.87 L582.95,869.84 L583.57,873.58 L584.19,877.13 L584.80,880.51 L585.40,883.75 L586.00,886.87 L586.61,889.88 L587.20,892.79 L587.80,895.62 L588.39,898.36 L588.99,901.04 L589.58,903.64 L590.16,906.19 L590.75,908.68 L591.34,911.12 L591.92,913.52 L592.51,915.87 L593.05,916.08 L593.59,916.08 L594.13,916.08 L594.67,916.08 L595.21,916.08 L595.75,916.08 L596.29,916.08 L596.83,916.08 L597.37,916.08 L597.90,915.48 L598.40,913.35 L598.90,911.19 L599.40,908.99 L599.90,906.74 L600.40,904.45 L600.89,902.12 L601.39,899.73 L601.88,897.28 L602.37,894.78 L602.86,892.21 L603.35,889.56 L603.83,886.84 L604.32,884.02 L604.80,881.11 L605.28,878.08 L605.75,874.93 L606.22,871.62 L606.69,868.15 L607.16,864.60" stroke="#0a0a0a" stroke-width="2.0" fill="none" stroke-linejoin="round" stroke-linecap="round" />
<path d="M598.20,584.80 L605.60,584.80 L613.80,569.40 Q615.00,566.70 617.60,566.70 Q620.20,566.70 621.40,569.40 L630.60,584.80" stroke="#0a0a0a" stroke-width="2.2" fill="none" stroke-linejoin="round" stroke-linecap="round" />
<path d="M630.60,584.80 L636.90,584.80 L643.00,575.80 L662.30,594.80" stroke="#0a0a0a" stroke-width="2.2" fill="none" stroke-linejoin="round" stroke-linecap="round" />
<path d="M598.20,584.80 L598.67,585.81 L599.14,588.84 L599.60,593.86 L600.07,600.82 L600.54,609.66 L601.01,620.30 L601.48,632.65 L601.94,646.60 L602.41,662.01 L602.88,678.76 L603.35,696.68 L603.82,715.63 L604.28,735.43 L604.75,755.90" stroke="#0a0a0a" stroke-width="2.0" fill="none" stroke-linejoin="round" stroke-linecap="round" />
<path d="M605.60,584.80 L606.07,585.81 L606.54,588.84 L607.00,593.86 L607.47,600.82 L607.94,609.66 L608.41,620.30 L608.88,632.65 L609.34,646.60 L609.81,662.01 L610.28,678.76 L610.75,696.68 L611.22,715.63 L611.68,735.43 L612.15,755.90" stroke="#0a0a0a" stroke-width="2.0" fill="none" stroke-linejoin="round" stroke-linecap="round" />
<path d="M630.60,584.80 L631.07,585.81 L631.54,588.84 L632.00,593.86 L632.47,600.82 L632.94,609.66 L633.41,620.30 L633.88,632.65 L634.34,646.60 L634.81,662.01 L635.28,678.76 L635.75,696.68 L636.22,715.63 L636.68,735.43 L637.15,755.90" stroke="#0a0a0a" stroke-width="2.0" fill="none" stroke-linejoin="round" stroke-linecap="round" />
<path d="M615.15,567.50 L615.52,569.14 L615.90,572.19 L616.28,576.62 L616.66,582.42 L617.03,589.55 L617.41,597.97 L617.79,607.64 L618.17,618.48 L618.54,630.44 L618.92,643.46 L619.30,657.45 L619.68,672.33 L620.05,688.02 L620.43,704.42 L625.83,704.42 L625.45,688.02 L625.08,672.33 L624.70,657.45 L624.32,643.46 L623.94,630.44 L623.57,618.48 L623.19,607.64 L622.81,597.97 L622.43,589.55 L622.06,582.42 L621.68,576.62 L621.30,572.19 L620.92,569.14 L620.55,567.50 Z" stroke="#0a0a0a" stroke-width="1.9" fill="#161616" stroke-linejoin="round" stroke-linecap="round" />
<path d="M618.24,568.18 L618.60,570.39 L618.96,573.84 L619.31,578.53 L619.67,584.42 L620.03,591.48 L620.38,599.69 L620.74,608.99 L621.09,619.34 L621.45,630.68 L621.81,642.96 L622.16,656.10 L622.52,670.05 L622.88,684.73 L623.23,700.07" stroke="#b0b0b0" stroke-width="1.2" fill="none" stroke-linejoin="round" stroke-linecap="round" stroke-dasharray="3.4 2.0" stroke-linecap="butt"/>
<path d="M636.90,584.80 L637.37,585.81 L637.84,588.84 L638.30,593.86 L638.77,600.82 L639.24,609.66 L639.71,620.30 L640.18,632.65 L640.64,646.60 L641.11,662.01 L641.58,678.76 L642.05,696.68 L642.52,715.63 L642.98,735.43 L643.45,755.90" stroke="#0a0a0a" stroke-width="2.0" fill="none" stroke-linejoin="round" stroke-linecap="round" />
<path d="M604.75,755.90 L605.29,755.90 L605.83,755.90 L606.37,755.90 L606.91,755.90 L607.45,755.90 L607.99,755.90 L608.54,755.90 L609.08,755.90 L609.62,755.90 L610.16,755.90 L610.70,755.90 L611.24,755.90 L611.78,755.90 L612.29,754.63 L612.75,750.66 L613.21,746.92 L613.68,743.37 L614.15,739.99 L614.62,736.75 L615.10,733.63 L615.58,730.62 L616.06,727.71 L616.55,724.88 L617.03,722.14 L617.52,719.46 L618.01,716.86 L618.50,714.31 L619.00,711.82 L619.49,709.38 L619.99,706.98 L620.49,704.63 L621.02,704.42 L621.56,704.42 L622.10,704.42 L622.64,704.42 L623.18,704.42 L623.72,704.42 L624.26,704.42 L624.80,704.42 L625.34,704.42 L625.90,705.02 L626.47,707.15 L627.06,709.31 L627.64,711.51 L628.22,713.76 L628.80,716.05 L629.39,718.38 L629.97,720.77 L630.56,723.22 L631.15,725.72 L631.74,728.29 L632.34,730.94 L632.93,733.66 L633.53,736.48 L634.13,739.39 L634.73,742.42 L635.34,745.57 L635.94,748.88 L636.56,752.35 L637.17,755.90" stroke="#0a0a0a" stroke-width="2.0" fill="none" stroke-linejoin="round" stroke-linecap="round" />
<path d="M637.15,755.70 L643.45,755.70" stroke="#0a0a0a" stroke-width="2.0" fill="none" stroke-linejoin="round" stroke-linecap="round" />
<path d="M638.60,583.20 L641.00,640.00 L643.60,700.00 L645.80,740.00" stroke="#0a0a0a" stroke-width="2.0" fill="none" stroke-linejoin="round" stroke-linecap="round" />
<path d="M643.00,575.80 L644.60,640.00 L646.20,700.00 L647.50,741.00" stroke="#0a0a0a" stroke-width="2.0" fill="none" stroke-linejoin="round" stroke-linecap="round" />
<path d="M647.5,740.5 Q659.6,772 659.6,806 Q659.6,842 648.2,876" stroke="#0a0a0a" stroke-width="2.0" fill="none" stroke-linejoin="round" stroke-linecap="round" />
<path d="M613.71,1035.70 L621.11,1035.70 L629.31,1051.10 Q630.51,1053.80 633.11,1053.80 Q635.71,1053.80 636.91,1051.10 L646.11,1035.70" stroke="#0a0a0a" stroke-width="2.2" fill="none" stroke-linejoin="round" stroke-linecap="round" />
<path d="M646.11,1035.70 L653.11,1035.70 L662.30,1026.00" stroke="#0a0a0a" stroke-width="2.2" fill="none" stroke-linejoin="round" stroke-linecap="round" />
<path d="M607.16,864.60 L607.63,885.07 L608.09,904.87 L608.56,923.82 L609.03,941.74 L609.50,958.49 L609.97,973.90 L610.43,987.85 L610.90,1000.20 L611.37,1010.84 L611.84,1019.68 L612.31,1026.64 L612.77,1031.66 L613.24,1034.69 L613.71,1035.70" stroke="#0a0a0a" stroke-width="2.0" fill="none" stroke-linejoin="round" stroke-linecap="round" />
<path d="M614.56,864.60 L615.03,885.07 L615.49,904.87 L615.96,923.82 L616.43,941.74 L616.90,958.49 L617.37,973.90 L617.83,987.85 L618.30,1000.20 L618.77,1010.84 L619.24,1019.68 L619.71,1026.64 L620.17,1031.66 L620.64,1034.69 L621.11,1035.70" stroke="#0a0a0a" stroke-width="2.0" fill="none" stroke-linejoin="round" stroke-linecap="round" />
<path d="M639.56,864.60 L640.03,885.07 L640.49,904.87 L640.96,923.82 L641.43,941.74 L641.90,958.49 L642.37,973.90 L642.83,987.85 L643.30,1000.20 L643.77,1010.84 L644.24,1019.68 L644.71,1026.64 L645.17,1031.66 L645.64,1034.69 L646.11,1035.70" stroke="#0a0a0a" stroke-width="2.0" fill="none" stroke-linejoin="round" stroke-linecap="round" />
<path d="M624.88,916.08 L625.26,932.48 L625.63,948.17 L626.01,963.05 L626.39,977.04 L626.77,990.06 L627.14,1002.02 L627.52,1012.86 L627.90,1022.53 L628.28,1030.95 L628.65,1038.08 L629.03,1043.88 L629.41,1048.31 L629.79,1051.36 L630.16,1053.00 L635.56,1053.00 L635.19,1051.36 L634.81,1048.31 L634.43,1043.88 L634.05,1038.08 L633.68,1030.95 L633.30,1022.53 L632.92,1012.86 L632.54,1002.02 L632.17,990.06 L631.79,977.04 L631.41,963.05 L631.03,948.17 L630.66,932.48 L630.28,916.08 Z" stroke="#0a0a0a" stroke-width="1.9" fill="#161616" stroke-linejoin="round" stroke-linecap="round" />
<path d="M627.98,924.74 L628.33,939.90 L628.69,954.39 L629.05,968.12 L629.40,981.04 L629.76,993.06 L630.11,1004.13 L630.47,1014.20 L630.83,1023.20 L631.18,1031.09 L631.54,1037.83 L631.90,1043.39 L632.25,1047.74 L632.61,1050.85 L632.96,1052.70" stroke="#b0b0b0" stroke-width="1.2" fill="none" stroke-linejoin="round" stroke-linecap="round" stroke-dasharray="3.4 2.0" stroke-linecap="butt"/>
<path d="M646.56,864.60 L647.03,885.07 L647.49,904.87 L647.96,923.82 L648.43,941.74 L648.90,958.49 L649.37,973.90 L649.83,987.85 L650.30,1000.20 L650.77,1010.84 L651.24,1019.68 L651.71,1026.64 L652.17,1031.66 L652.64,1034.69 L653.11,1035.70" stroke="#0a0a0a" stroke-width="2.0" fill="none" stroke-linejoin="round" stroke-linecap="round" />
<path d="M607.16,864.60 L607.70,864.60 L608.24,864.60 L608.78,864.60 L609.32,864.60 L609.86,864.60 L610.40,864.60 L610.94,864.60 L611.48,864.60 L612.02,864.60 L612.56,864.60 L613.10,864.60 L613.64,864.60 L614.18,864.60 L614.75,865.87 L615.37,869.84 L615.99,873.58 L616.61,877.13 L617.22,880.51 L617.82,883.75 L618.42,886.87 L619.03,889.88 L619.62,892.79 L620.22,895.62 L620.81,898.36 L621.41,901.04 L622.00,903.64 L622.58,906.19 L623.17,908.68 L623.76,911.12 L624.34,913.52 L624.93,915.87 L625.47,916.08 L626.01,916.08 L626.55,916.08 L627.09,916.08 L627.63,916.08 L628.17,916.08 L628.71,916.08 L629.25,916.08 L629.79,916.08 L630.32,915.48 L630.82,913.35 L631.32,911.19 L631.82,908.99 L632.32,906.74 L632.82,904.45 L633.31,902.12 L633.81,899.73 L634.30,897.28 L634.79,894.78 L635.28,892.21 L635.77,889.56 L636.25,886.84 L636.74,884.02 L637.22,881.11 L637.70,878.08 L638.17,874.93 L638.64,871.62 L639.11,868.15 L639.58,864.60" stroke="#0a0a0a" stroke-width="2.0" fill="none" stroke-linejoin="round" stroke-linecap="round" />
<path d="M639.56,864.80 L646.56,864.80" stroke="#0a0a0a" stroke-width="2.0" fill="none" stroke-linejoin="round" stroke-linecap="round" />
<path d="M648.20,876.00 L648.60,930.00 L650.00,990.00 L652.00,1035.00" stroke="#0a0a0a" stroke-width="2.0" fill="none" stroke-linejoin="round" stroke-linecap="round" />
</g>
<path d="M496.60,517.80 L488.30,567.00" stroke="#0a0a0a" stroke-width="1.8" fill="none" stroke-linejoin="round" stroke-linecap="round" />
<path d="M496.20,535.50 L490.00,567.80" stroke="#0a0a0a" stroke-width="1.8" fill="none" stroke-linejoin="round" stroke-linecap="round" />
<path d="M494.00,567.50 L490.50,597.20 L496.60,597.20" stroke="#0a0a0a" stroke-width="1.8" fill="none" stroke-linejoin="round" stroke-linecap="round" />
<path d="M496.60,600.00 L488.30,664.40 L496.60,664.40" stroke="#0a0a0a" stroke-width="1.8" fill="none" stroke-linejoin="round" stroke-linecap="round" />
<path d="M494.50,705.00 L488.30,755.00" stroke="#0a0a0a" stroke-width="1.8" fill="none" stroke-linejoin="round" stroke-linecap="round" />
<path d="M496.60,750.50 L488.30,755.00 L496.60,757.00" stroke="#0a0a0a" stroke-width="1.8" fill="none" stroke-linejoin="round" stroke-linecap="round" />
<path d="M496.60,812.00 L487.80,857.20 L496.60,870.00" stroke="#0a0a0a" stroke-width="1.8" fill="none" stroke-linejoin="round" stroke-linecap="round" />
<path d="M496.60,920.00 L488.30,952.00 L496.60,990.00" stroke="#0a0a0a" stroke-width="1.8" fill="none" stroke-linejoin="round" stroke-linecap="round" />
<path d="M496.60,1020.50 L488.60,1020.50 L496.60,1085.00" stroke="#0a0a0a" stroke-width="1.8" fill="none" stroke-linejoin="round" stroke-linecap="round" />
<path d="M496.60,1102.70 L491.50,1053.50" stroke="#0a0a0a" stroke-width="1.8" fill="none" stroke-linejoin="round" stroke-linecap="round" />
<path d="M496.20,1085.00 L493.50,1052.70" stroke="#0a0a0a" stroke-width="1.8" fill="none" stroke-linejoin="round" stroke-linecap="round" />
<path d="M513.20,519.00 L521.00,566.70" stroke="#0a0a0a" stroke-width="1.8" fill="none" stroke-linejoin="round" stroke-linecap="round" />
<path d="M512.80,562.00 L519.00,598.00" stroke="#0a0a0a" stroke-width="1.8" fill="none" stroke-linejoin="round" stroke-linecap="round" />
<path d="M520.50,600.00 L513.60,630.00 L521.70,669.40 L513.60,700.00" stroke="#0a0a0a" stroke-width="1.8" fill="none" stroke-linejoin="round" stroke-linecap="round" />
<path d="M513.60,748.00 L521.70,763.00 L513.20,810.00" stroke="#0a0a0a" stroke-width="1.8" fill="none" stroke-linejoin="round" stroke-linecap="round" />
<path d="M513.60,870.00 L521.00,864.00 L513.60,864.00" stroke="#0a0a0a" stroke-width="1.8" fill="none" stroke-linejoin="round" stroke-linecap="round" />
<path d="M521.00,864.00 L513.60,911.00" stroke="#0a0a0a" stroke-width="1.8" fill="none" stroke-linejoin="round" stroke-linecap="round" />
<path d="M519.40,866.00 L521.00,957.80 L513.60,953.00" stroke="#0a0a0a" stroke-width="1.8" fill="none" stroke-linejoin="round" stroke-linecap="round" />
<path d="M513.60,990.00 L521.50,1021.00 L513.60,1021.00" stroke="#0a0a0a" stroke-width="1.8" fill="none" stroke-linejoin="round" stroke-linecap="round" />
<path d="M513.20,1101.50 L524.00,1053.80" stroke="#0a0a0a" stroke-width="1.8" fill="none" stroke-linejoin="round" stroke-linecap="round" />
<path d="M512.80,1058.50 L521.00,1022.50" stroke="#0a0a0a" stroke-width="1.8" fill="none" stroke-linejoin="round" stroke-linecap="round" />
<path d="M489.00,567.60 L494.20,567.60 L490.70,597.00 Z" stroke="#0a0a0a" stroke-width="1.2" fill="#1a1a1a" stroke-linejoin="round" stroke-linecap="round" />
<path d="M213.00,540.00 L233.75,520.50 L236.00,518.60 L268.50,518.60 L271.60,521.50 L271.60,1099.00 L268.50,1102.00 L236.00,1102.00 L233.75,1100.00 L213.00,1080.50 Z" stroke="#0a0a0a" stroke-width="0" fill="#fff" stroke-linejoin="round" stroke-linecap="round" />
<path d="M234.2,519.6 L215.5,538.2 Q213.3,540 213.3,543 V1077.5 Q213.3,1080.5 215.5,1082.3 L234.2,1100.9" stroke="#0a0a0a" stroke-width="2.4" fill="none" stroke-linejoin="round" stroke-linecap="round" />
<rect x="234.4" y="518.6" width="3.2" height="583.4" fill="#6e6e6e"/>
<line x1="234.40" y1="518.60" x2="234.40" y2="1102.00" stroke="#0a0a0a" stroke-width="1.7" />
<line x1="237.60" y1="518.60" x2="237.60" y2="1102.00" stroke="#0a0a0a" stroke-width="1.7" />
<path d="M233.5,518.6 H268 Q271.8,518.6 271.8,522.4 V1098.2 Q271.8,1102.0 268,1102.0 H233.5" stroke="#0a0a0a" stroke-width="1.9" fill="none" stroke-linejoin="round" stroke-linecap="round" />
<line x1="267.90" y1="519.40" x2="267.90" y2="1101.20" stroke="#0a0a0a" stroke-width="2.2" />
<rect x="496.6" y="494.0" width="16.6" height="632.5999999999999" rx="2.6" ry="2.6" fill="#fff" stroke="#0a0a0a" stroke-width="2.0"/>
<line x1="500.00" y1="494.50" x2="500.00" y2="1126.10" stroke="#0a0a0a" stroke-width="1.9" />
<line x1="509.70" y1="494.50" x2="509.70" y2="1126.10" stroke="#0a0a0a" stroke-width="1.5" />
<path d="M527.30,528.00 L545.00,494.50 L591.50,494.50 L609.20,528.00 L609.20,1092.50 L591.50,1126.00 L545.00,1126.00 L527.30,1092.50 Z" stroke="#0a0a0a" stroke-width="0" fill="#fff" stroke-linejoin="round" stroke-linecap="round" />
<path d="M527.30,528.00 L545.00,494.50 L591.50,494.50 L609.20,528.00 L609.20,1092.50 L591.50,1126.00 L545.00,1126.00 L527.30,1092.50 Z" stroke="#0a0a0a" stroke-width="2.4" fill="none" stroke-linejoin="round" stroke-linecap="round" />
<path d="M531.00,603.75 L531.00,538.00 Q536.50,514.00 547.80,496.00" stroke="#0a0a0a" stroke-width="1.9" fill="none" stroke-linejoin="round" stroke-linecap="round" />
<path d="M527.30,528.00 L531.00,538.00" stroke="#0a0a0a" stroke-width="1.6" fill="none" stroke-linejoin="round" stroke-linecap="round" />
<path d="M528.20,605.50 L546.00,645.60" stroke="#0a0a0a" stroke-width="2.0" fill="none" stroke-linejoin="round" stroke-linecap="round" />
<path d="M531.00,603.75 L549.40,645.00" stroke="#0a0a0a" stroke-width="1.7" fill="none" stroke-linejoin="round" stroke-linecap="round" />
<path d="M545.80,658.80 Q533.00,712.00 528.20,746.00" stroke="#0a0a0a" stroke-width="2.0" fill="none" stroke-linejoin="round" stroke-linecap="round" />
<path d="M549.40,658.80 Q537.00,712.00 532.20,746.00" stroke="#0a0a0a" stroke-width="1.7" fill="none" stroke-linejoin="round" stroke-linecap="round" />
<path d="M532.20,746.00 L532.20,810.25" stroke="#0a0a0a" stroke-width="1.7" fill="none" stroke-linejoin="round" stroke-linecap="round" />
<path d="M549.40,645.60 L549.40,658.80" stroke="#0a0a0a" stroke-width="1.5" fill="none" stroke-linejoin="round" stroke-linecap="round" />
<path d="M605.50,603.75 L605.50,538.00 Q600.00,514.00 588.70,496.00" stroke="#0a0a0a" stroke-width="1.9" fill="none" stroke-linejoin="round" stroke-linecap="round" />
<path d="M609.20,528.00 L605.50,538.00" stroke="#0a0a0a" stroke-width="1.6" fill="none" stroke-linejoin="round" stroke-linecap="round" />
<path d="M608.30,605.50 L590.50,645.60" stroke="#0a0a0a" stroke-width="2.0" fill="none" stroke-linejoin="round" stroke-linecap="round" />
<path d="M605.50,603.75 L587.10,645.00" stroke="#0a0a0a" stroke-width="1.7" fill="none" stroke-linejoin="round" stroke-linecap="round" />
<path d="M590.70,658.80 Q603.50,712.00 608.30,746.00" stroke="#0a0a0a" stroke-width="2.0" fill="none" stroke-linejoin="round" stroke-linecap="round" />
<path d="M587.10,658.80 Q599.50,712.00 604.30,746.00" stroke="#0a0a0a" stroke-width="1.7" fill="none" stroke-linejoin="round" stroke-linecap="round" />
<path d="M604.30,746.00 L604.30,810.25" stroke="#0a0a0a" stroke-width="1.7" fill="none" stroke-linejoin="round" stroke-linecap="round" />
<path d="M587.10,645.60 L587.10,658.80" stroke="#0a0a0a" stroke-width="1.5" fill="none" stroke-linejoin="round" stroke-linecap="round" />
<path d="M545.5,495.30 H591.00" stroke="#0a0a0a" stroke-width="2.6" fill="none" stroke-linejoin="round" stroke-linecap="round" />
<rect x="545.8" y="645.60" width="44.90" height="13.2" fill="#fff" stroke="#0a0a0a" stroke-width="2.3"/>
<path d="M531.00,1016.75 L531.00,1082.50 Q536.50,1106.50 547.80,1124.50" stroke="#0a0a0a" stroke-width="1.9" fill="none" stroke-linejoin="round" stroke-linecap="round" />
<path d="M527.30,1092.50 L531.00,1082.50" stroke="#0a0a0a" stroke-width="1.6" fill="none" stroke-linejoin="round" stroke-linecap="round" />
<path d="M528.20,1015.00 L546.00,974.90" stroke="#0a0a0a" stroke-width="2.0" fill="none" stroke-linejoin="round" stroke-linecap="round" />
<path d="M531.00,1016.75 L549.40,975.50" stroke="#0a0a0a" stroke-width="1.7" fill="none" stroke-linejoin="round" stroke-linecap="round" />
<path d="M545.80,961.70 Q533.00,908.50 528.20,874.50" stroke="#0a0a0a" stroke-width="2.0" fill="none" stroke-linejoin="round" stroke-linecap="round" />
<path d="M549.40,961.70 Q537.00,908.50 532.20,874.50" stroke="#0a0a0a" stroke-width="1.7" fill="none" stroke-linejoin="round" stroke-linecap="round" />
<path d="M532.20,874.50 L532.20,810.25" stroke="#0a0a0a" stroke-width="1.7" fill="none" stroke-linejoin="round" stroke-linecap="round" />
<path d="M549.40,974.90 L549.40,961.70" stroke="#0a0a0a" stroke-width="1.5" fill="none" stroke-linejoin="round" stroke-linecap="round" />
<path d="M605.50,1016.75 L605.50,1082.50 Q600.00,1106.50 588.70,1124.50" stroke="#0a0a0a" stroke-width="1.9" fill="none" stroke-linejoin="round" stroke-linecap="round" />
<path d="M609.20,1092.50 L605.50,1082.50" stroke="#0a0a0a" stroke-width="1.6" fill="none" stroke-linejoin="round" stroke-linecap="round" />
<path d="M608.30,1015.00 L590.50,974.90" stroke="#0a0a0a" stroke-width="2.0" fill="none" stroke-linejoin="round" stroke-linecap="round" />
<path d="M605.50,1016.75 L587.10,975.50" stroke="#0a0a0a" stroke-width="1.7" fill="none" stroke-linejoin="round" stroke-linecap="round" />
<path d="M590.70,961.70 Q603.50,908.50 608.30,874.50" stroke="#0a0a0a" stroke-width="2.0" fill="none" stroke-linejoin="round" stroke-linecap="round" />
<path d="M587.10,961.70 Q599.50,908.50 604.30,874.50" stroke="#0a0a0a" stroke-width="1.7" fill="none" stroke-linejoin="round" stroke-linecap="round" />
<path d="M604.30,874.50 L604.30,810.25" stroke="#0a0a0a" stroke-width="1.7" fill="none" stroke-linejoin="round" stroke-linecap="round" />
<path d="M587.10,974.90 L587.10,961.70" stroke="#0a0a0a" stroke-width="1.5" fill="none" stroke-linejoin="round" stroke-linecap="round" />
<path d="M545.5,1125.20 H591.00" stroke="#0a0a0a" stroke-width="2.6" fill="none" stroke-linejoin="round" stroke-linecap="round" />
<rect x="545.8" y="961.70" width="44.90" height="13.2" fill="#fff" stroke="#0a0a0a" stroke-width="2.3"/>
<path d="M662.30,594.80 L794.60,594.80 L812.50,610.60 L812.50,1009.90 L794.60,1026.00 L662.30,1026.00 Z" stroke="#0a0a0a" stroke-width="2.0" fill="#fff" stroke-linejoin="round" stroke-linecap="round" />
<rect x="794.6" y="594.8" width="3.4" height="431.20000000000005" fill="#777"/>
<line x1="794.60" y1="594.80" x2="794.60" y2="1026.00" stroke="#0a0a0a" stroke-width="1.7" />
<line x1="798.00" y1="596.80" x2="798.00" y2="1024.00" stroke="#0a0a0a" stroke-width="1.5" />
<line x1="812.50" y1="610.60" x2="812.50" y2="1009.90" stroke="#0a0a0a" stroke-width="2.7" />
<path d="M845,665.6 H920 Q926.2,665.6 926.2,671.8000000000001 V948.8 Q926.2,955.0 920,955.0 H812.5" stroke="#0a0a0a" stroke-width="2.0" fill="none" stroke-linejoin="round" stroke-linecap="round" />
<line x1="919.60" y1="666.10" x2="919.60" y2="954.50" stroke="#0a0a0a" stroke-width="1.5" />
<path d="M812.50,649.60 L845.20,649.60 L845.20,665.50 L840.00,668.30 L812.50,668.30" stroke="#0a0a0a" stroke-width="2.1" fill="none" stroke-linejoin="round" stroke-linecap="round" />
<line x1="812.50" y1="651.80" x2="836.00" y2="651.80" stroke="#0a0a0a" stroke-width="1.4" />
<line x1="835.60" y1="651.80" x2="835.60" y2="668.30" stroke="#0a0a0a" stroke-width="1.6" />
<line x1="835.60" y1="651.80" x2="845.20" y2="649.60" stroke="#0a0a0a" stroke-width="1.2" />
<path d="M926.2,690.60 H972 A78,78 0 0 0 1046.2,739.00 V787.60 H926.2" stroke="#0a0a0a" stroke-width="1.7" fill="none" stroke-linejoin="round" stroke-linecap="round" />
<path d="M926.2,929.90 H972 A78,78 0 0 1 1046.2,881.50 V832.90 H926.2" stroke="#0a0a0a" stroke-width="1.7" fill="none" stroke-linejoin="round" stroke-linecap="round" />
<line x1="213.00" y1="194.00" x2="213.00" y2="540.00" stroke="#0a0a0a" stroke-width="1.7" />
<line x1="1046.20" y1="194.00" x2="1046.20" y2="740.00" stroke="#0a0a0a" stroke-width="1.7" />
<line x1="213.00" y1="227.00" x2="1046.20" y2="227.00" stroke="#0a0a0a" stroke-width="1.7" />
<polygon points="213.00,227.00 279.00,218.30 279.00,235.70" fill="#000"/>
<polygon points="1046.20,227.00 980.20,218.30 980.20,235.70" fill="#000"/>
<line x1="926.20" y1="306.00" x2="926.20" y2="668.00" stroke="#0a0a0a" stroke-width="1.7" />
<line x1="213.00" y1="339.00" x2="926.20" y2="339.00" stroke="#0a0a0a" stroke-width="1.7" />
<polygon points="213.00,339.00 279.00,330.30 279.00,347.70" fill="#000"/>
<polygon points="926.20,339.00 860.20,330.30 860.20,347.70" fill="#000"/>
<line x1="271.60" y1="402.50" x2="271.60" y2="522.00" stroke="#0a0a0a" stroke-width="1.7" />
<line x1="110.00" y1="436.00" x2="515.00" y2="436.00" stroke="#0a0a0a" stroke-width="1.7" />
<polygon points="213.00,436.00 147.00,427.30 147.00,444.70" fill="#000"/>
<polygon points="271.60,436.00 337.60,427.30 337.60,444.70" fill="#000"/>
<line x1="567.00" y1="809.40" x2="708.00" y2="450.00" stroke="#0a0a0a" stroke-width="1.6" />
<line x1="708.00" y1="450.00" x2="809.00" y2="450.00" stroke="#0a0a0a" stroke-width="1.7" />
<circle cx="567" cy="809.4" r="8.7" fill="#160404"/>
<line x1="75.50" y1="518.60" x2="234.00" y2="518.60" stroke="#0a0a0a" stroke-width="1.7" />
<line x1="75.50" y1="1102.00" x2="234.00" y2="1102.00" stroke="#0a0a0a" stroke-width="1.7" />
<line x1="108.40" y1="518.60" x2="108.40" y2="1102.00" stroke="#0a0a0a" stroke-width="1.7" />
<polygon points="108.40,518.60 99.70,584.60 117.10,584.60" fill="#000"/>
<polygon points="108.40,1102.00 99.70,1036.00 117.10,1036.00" fill="#000"/>
<line x1="615.00" y1="567.20" x2="1246.80" y2="567.20" stroke="#0a0a0a" stroke-width="1.7" />
<line x1="632.00" y1="1053.30" x2="1246.80" y2="1053.30" stroke="#0a0a0a" stroke-width="1.7" />
<line x1="1213.20" y1="567.20" x2="1213.20" y2="1053.30" stroke="#0a0a0a" stroke-width="1.7" />
<polygon points="1213.20,567.20 1204.50,633.20 1221.90,633.20" fill="#000"/>
<polygon points="1213.20,1053.30 1204.50,987.30 1221.90,987.30" fill="#000"/>
<line x1="591.00" y1="494.40" x2="1395.00" y2="494.40" stroke="#0a0a0a" stroke-width="1.7" />
<line x1="591.00" y1="1126.40" x2="1395.00" y2="1126.40" stroke="#0a0a0a" stroke-width="1.7" />
<line x1="1362.50" y1="494.40" x2="1362.50" y2="1126.40" stroke="#0a0a0a" stroke-width="1.7" />
<polygon points="1362.50,494.40 1353.80,560.40 1371.20,560.40" fill="#000"/>
<polygon points="1362.50,1126.40 1353.80,1060.40 1371.20,1060.40" fill="#000"/>
<line x1="272.50" y1="1112.50" x2="272.50" y2="1292.50" stroke="#0a0a0a" stroke-width="1.7" />
<line x1="496.00" y1="1137.50" x2="496.00" y2="1292.50" stroke="#0a0a0a" stroke-width="1.7" />
<line x1="272.50" y1="1277.50" x2="749.00" y2="1277.50" stroke="#0a0a0a" stroke-width="1.7" />
<polygon points="272.50,1277.50 334.50,1268.80 334.50,1286.20" fill="#000"/>
<polygon points="496.00,1277.50 432.00,1268.80 432.00,1286.20" fill="#000"/>
<line x1="406.50" y1="813.20" x2="195.50" y2="1277.50" stroke="#0a0a0a" stroke-width="1.6" />
<line x1="95.00" y1="1277.50" x2="195.50" y2="1277.50" stroke="#0a0a0a" stroke-width="1.7" />
<circle cx="406.5" cy="813.2" r="8.8" fill="#160404"/>
<text transform="translate(574.85,213.00) scale(1.0406,1)" font-size="51" fill="#111">2</text>
<text transform="translate(603.12,213.00) scale(1.0293,1)" font-size="51" fill="#111">6</text>
<text transform="translate(632.71,213.00) scale(1.2051,1)" font-size="51" fill="#111">.</text>
<text transform="translate(646.50,213.00) scale(1.0386,1)" font-size="51" fill="#111">7</text>
<text transform="translate(690.22,213.00) scale(0.9525,1)" font-size="51" fill="#111">M</text>
<text transform="translate(733.07,213.00) scale(0.9003,1)" font-size="51" fill="#111">a</text>
<text transform="translate(761.87,213.00) scale(1.0277,1)" font-size="51" fill="#111">x</text>
<text transform="translate(559.30,1263.60) scale(0.9554,1)" font-size="51" fill="#111">8</text>
<text transform="translate(585.89,1263.60) scale(1.1438,1)" font-size="51" fill="#111">.</text>
<text transform="translate(602.53,1263.60) scale(0.8191,1)" font-size="51" fill="#111">5</text>
<text transform="translate(641.05,1263.60) scale(0.8734,1)" font-size="51" fill="#111">M</text>
<text transform="translate(681.13,1263.60) scale(0.8278,1)" font-size="51" fill="#111">a</text>
<text transform="translate(707.42,1263.60) scale(0.9455,1)" font-size="51" fill="#111">x</text>
<text transform="translate(550.68,325.20) scale(1.0277,1)" font-size="51" fill="#111">2</text>
<polygon points="593.90,289.70 598.90,289.70 598.90,325.20 593.90,325.20 593.90,294.10 585.50,296.30 584.70,292.40" fill="#111"/>
<text transform="translate(608.12,325.20) scale(1.2459,1)" font-size="51" fill="#111">.</text>
<text transform="translate(625.01,325.20) scale(0.9971,1)" font-size="51" fill="#111">8</text>
<polygon points="391.70,386.70 396.90,386.70 396.90,422.20 391.70,422.20 391.70,391.10 383.30,393.30 382.50,389.40" fill="#111"/>
<text transform="translate(401.42,422.20) scale(1.2459,1)" font-size="51" fill="#111">.</text>
<text transform="translate(418.41,422.20) scale(0.9512,1)" font-size="51" fill="#111">8</text>
<text transform="translate(448.04,422.20) scale(0.9845,1)" font-size="51" fill="#111">0</text>
<polygon points="730.80,400.30 735.80,400.30 735.80,435.80 730.80,435.80 730.80,404.70 722.40,406.90 721.60,403.00" fill="#111"/>
<text transform="translate(746.09,435.80) scale(1.0235,1)" font-size="51" fill="#111">7</text>
<polygon points="100.80,1228.70 106.00,1228.70 106.00,1264.20 100.80,1264.20 100.80,1233.10 92.40,1235.30 91.60,1231.40" fill="#111"/>
<text transform="translate(117.88,1264.20) scale(0.8894,1)" font-size="51" fill="#111">3</text>
<text transform="translate(144.13,1264.20) scale(1.2868,1)" font-size="51" fill="#111">.</text>
<text transform="translate(163.59,1264.20) scale(0.8894,1)" font-size="51" fill="#111">5</text>
<g transform="translate(93.1,0) rotate(-90)">
<polygon points="-801.90,-35.50 -797.30,-35.50 -797.30,0.00 -801.90,0.00 -801.90,-31.10 -810.30,-28.90 -811.10,-32.80" fill="#111"/>
<text transform="translate(-785.92,0.00) scale(0.9908,1)" font-size="51" fill="#111">8</text>
</g>
<g transform="translate(1198.6,0) rotate(-90)">
<text transform="translate(-906.42,0.00) scale(0.9613,1)" font-size="51" fill="#111">M</text>
<polygon points="-849.00,-35.50 -844.00,-35.50 -844.00,0.00 -849.00,0.00 -849.00,-31.10 -857.40,-28.90 -858.20,-32.80" fill="#111"/>
<text transform="translate(-833.14,0.00) scale(0.8522,1)" font-size="51" fill="#111">5</text>
<text transform="translate(-805.98,0.00) scale(0.9413,1)" font-size="51" fill="#111">x</text>
<polygon points="-767.20,-35.50 -762.20,-35.50 -762.20,0.00 -767.20,0.00 -767.20,-31.10 -775.60,-28.90 -776.40,-32.80" fill="#111"/>
<text transform="translate(-755.42,0.00) scale(1.0825,1)" font-size="51" fill="#111">.</text>
<text transform="translate(-739.27,0.00) scale(0.9394,1)" font-size="51" fill="#111">0</text>
</g>
<g transform="translate(1345,0) rotate(-90)">
<polygon points="-832.80,-35.50 -828.00,-35.50 -828.00,0.00 -832.80,0.00 -832.80,-31.10 -841.20,-28.90 -842.00,-32.80" fill="#111"/>
<text transform="translate(-816.04,0.00) scale(0.9549,1)" font-size="51" fill="#111">9</text>
<text transform="translate(-788.41,0.00) scale(1.1438,1)" font-size="51" fill="#111">.</text>
<text transform="translate(-772.53,0.00) scale(0.9933,1)" font-size="51" fill="#111">2</text>
</g>
<circle cx="75.6" cy="844.6" r="17.8" fill="none" stroke="#111" stroke-width="1.3"/>
<line x1="50.00" y1="834.40" x2="101.90" y2="855.00" stroke="#0a0a0a" stroke-width="1.3" />
<circle cx="1327.5" cy="875.6" r="18" fill="none" stroke="#111" stroke-width="1.3"/>
<line x1="1301.90" y1="865.60" x2="1353.75" y2="886.25" stroke="#0a0a0a" stroke-width="1.4" />
<g style="mix-blend-mode:multiply">
<path d="M339.5,778.5 V826 Q339.5,836.3 350,836.3 H381" stroke="#ffe9e9" stroke-width="8.5" fill="none" stroke-linecap="round" stroke-linejoin="round"/>
<path d="M401.3,778 v0.1 M401.3,799 V836.5" stroke="#ffe9e9" stroke-width="8.5" fill="none" stroke-linecap="round" stroke-linejoin="round"/>
<path d="M456,807 Q456,797 446,797 H437 Q427,797 427,807 V826 Q427,836 437,836 H456 M456,797 V840 Q456,849.5 446,849.5 H432" stroke="#ffe9e9" stroke-width="8.5" fill="none" stroke-linecap="round" stroke-linejoin="round"/>
<path d="M472.3,778.5 V836.5 M472.3,808 Q472.3,797.5 483,797.5 H494 Q505,797.5 505,808 V836.5" stroke="#ffe9e9" stroke-width="8.5" fill="none" stroke-linecap="round" stroke-linejoin="round"/>
<path d="M528,779 V826 Q528,836.5 538,836.5 H546 M517,799 H548" stroke="#ffe9e9" stroke-width="8.5" fill="none" stroke-linecap="round" stroke-linejoin="round"/>
<path d="M561,797.5 H585 Q596,797.5 596,808 V836.5 H567 Q557,836.5 557,827 Q557,817 567,817 H596" stroke="#ffe9e9" stroke-width="8.5" fill="none" stroke-linecap="round" stroke-linejoin="round"/>
<path d="M609.5,836.5 V797.5 H622 Q633,797.5 633,808 V836.5" stroke="#ffe9e9" stroke-width="8.5" fill="none" stroke-linecap="round" stroke-linejoin="round"/>
<path d="M661.5,797.5 V826 Q661.5,836.5 672,836.5 H688.5 M688.5,797.5 V840 Q688.5,849.5 678,849.5 H665" stroke="#ffe9e9" stroke-width="8.5" fill="none" stroke-linecap="round" stroke-linejoin="round"/>
</g>
</svg>
</body></html>
